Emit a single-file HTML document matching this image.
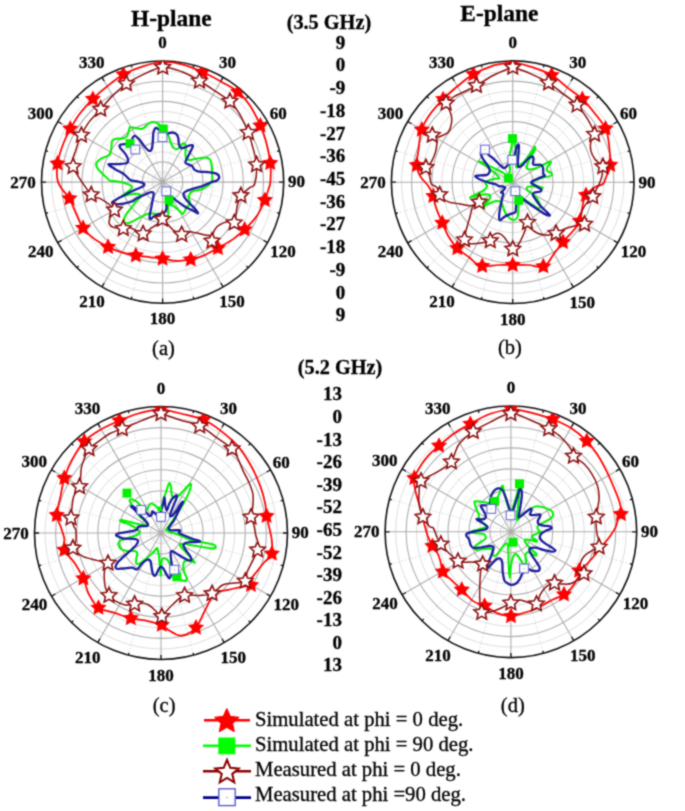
<!DOCTYPE html>
<html><head><meta charset="utf-8"><style>
html,body{margin:0;padding:0;background:#fff;width:685px;height:811px;overflow:hidden}
svg{display:block}
text{font-family:"Liberation Serif", serif;fill:#000;stroke:#000;stroke-width:0.3px}
.dl{font-size:17px;font-weight:bold;text-anchor:middle}
.tt{font-size:23.4px;font-weight:bold;text-anchor:middle}
.ghz{font-size:20.3px;font-weight:bold;text-anchor:middle}
.sc{font-size:19px;font-weight:bold;text-anchor:end}
.sub{font-size:20.5px;text-anchor:middle}
.lg{font-size:20.7px}
.gm{fill:none;stroke:#d4d4d4;stroke-width:0.9;stroke-dasharray:1.5 2}
.gmc{fill:none;stroke:#dedede;stroke-width:1}
.gM{fill:none;stroke:#adadad;stroke-width:1.1}
.ax{fill:none;stroke:#111;stroke-width:1.6}
.tk{fill:none;stroke:#111;stroke-width:1.3}
.cr{fill:none;stroke:#ff0000;stroke-width:1.75}
.cmr{fill:none;stroke:#8b1010;stroke-width:1.5}
.cg{fill:none;stroke:#00f000;stroke-width:2.05}
.cb{fill:none;stroke:#1c1c9c;stroke-width:2.3}
.sr{fill:#ff0000}
.sm{fill:#fff;stroke:#8b1010;stroke-width:1.6;stroke-linejoin:miter}
.qg{fill:#00f000}
.qb{fill:#fff;stroke:#6a6ad6;stroke-width:1.1}
</style></head><body>
<svg width="685" height="811" viewBox="0 0 685 811">
<defs><filter id="bl" filterUnits="userSpaceOnUse" x="0" y="0" width="685" height="811" color-interpolation-filters="sRGB"><feConvolveMatrix order="3" kernelMatrix="1 2 1 2 8 2 1 2 1" divisor="20" edgeMode="duplicate"/></filter><clipPath id="clipa"><circle cx="162.55" cy="182.05" r="121.1"/></clipPath><clipPath id="clipb"><circle cx="512.7" cy="182.2" r="121.3"/></clipPath><clipPath id="clipc"><circle cx="161.0" cy="533.0" r="126.5"/></clipPath><clipPath id="clipd"><circle cx="510.9" cy="531.8" r="125.8"/></clipPath></defs>
<g filter="url(#bl)">
<rect x="0" y="0" width="685" height="811" fill="#fff"/>
<circle cx="162.6" cy="182.1" r="10.1" class="gmc"/>
<circle cx="162.6" cy="182.1" r="30.3" class="gmc"/>
<circle cx="162.6" cy="182.1" r="50.5" class="gmc"/>
<circle cx="162.6" cy="182.1" r="70.6" class="gmc"/>
<circle cx="162.6" cy="182.1" r="90.8" class="gmc"/>
<circle cx="162.6" cy="182.1" r="111" class="gmc"/>
<path d="M162.6 182.1L193.9 65.1M162.6 182.1L248.2 96.4M162.6 182.1L279.5 150.7M162.6 182.1L279.5 213.4M162.6 182.1L248.2 267.7M162.6 182.1L193.9 299M162.6 182.1L131.2 299M162.6 182.1L76.9 267.7M162.6 182.1L45.6 213.4M162.6 182.1L45.6 150.7M162.6 182.1L76.9 96.4M162.6 182.1L131.2 65.1" class="gm"/>
<circle cx="162.6" cy="182.1" r="20.2" class="gM"/>
<circle cx="162.6" cy="182.1" r="40.4" class="gM"/>
<circle cx="162.6" cy="182.1" r="60.5" class="gM"/>
<circle cx="162.6" cy="182.1" r="80.7" class="gM"/>
<circle cx="162.6" cy="182.1" r="100.9" class="gM"/>
<path d="M162.6 182.1L162.6 61M162.6 182.1L223.1 77.2M162.6 182.1L267.4 121.5M162.6 182.1L283.6 182.1M162.6 182.1L267.4 242.6M162.6 182.1L223.1 286.9M162.6 182.1L162.6 303.1M162.6 182.1L102 286.9M162.6 182.1L57.7 242.6M162.6 182.1L41.5 182.1M162.6 182.1L57.7 121.5M162.6 182.1L102 77.2" class="gM"/>
<circle cx="162.6" cy="182.1" r="121.1" class="ax"/>
<path d="M162.6 61L162.6 65.5M193.9 65.1L193.2 67.5M223.1 77.2L220.8 81.1M248.2 96.4L246.4 98.2M267.4 121.5L263.5 123.8M279.5 150.7L277.1 151.4M283.6 182.1L279.1 182.1M279.5 213.4L277.1 212.7M267.4 242.6L263.5 240.3M248.2 267.7L246.4 265.9M223.1 286.9L220.8 283M193.9 299L193.2 296.6M162.6 303.1L162.6 298.6M131.2 299L131.9 296.6M102 286.9L104.2 283M76.9 267.7L78.7 265.9M57.7 242.6L61.6 240.4M45.6 213.4L48 212.7M41.5 182.1L46 182.1M45.6 150.7L48 151.4M57.7 121.5L61.6 123.8M76.9 96.4L78.7 98.2M102 77.2L104.2 81.1M131.2 65.1L131.9 67.5" class="tk"/>
<text x="162.6" y="48.3" class="dl">0</text>
<text x="227.6" y="68" class="dl">30</text>
<text x="278.3" y="119.3" class="dl">60</text>
<text x="296.6" y="187.3" class="dl">90</text>
<text x="283.1" y="256.5" class="dl">120</text>
<text x="232.1" y="307.1" class="dl">150</text>
<text x="162.6" y="324.2" class="dl">180</text>
<text x="92" y="306.9" class="dl">210</text>
<text x="40.7" y="256.8" class="dl">240</text>
<text x="23.1" y="187.6" class="dl">270</text>
<text x="40.5" y="118.8" class="dl">300</text>
<text x="91.8" y="68" class="dl">330</text>
<circle cx="512.7" cy="182.2" r="10.1" class="gmc"/>
<circle cx="512.7" cy="182.2" r="30.3" class="gmc"/>
<circle cx="512.7" cy="182.2" r="50.5" class="gmc"/>
<circle cx="512.7" cy="182.2" r="70.8" class="gmc"/>
<circle cx="512.7" cy="182.2" r="91" class="gmc"/>
<circle cx="512.7" cy="182.2" r="111.2" class="gmc"/>
<path d="M512.7 182.2L544.1 65M512.7 182.2L598.5 96.4M512.7 182.2L629.9 150.8M512.7 182.2L629.9 213.6M512.7 182.2L598.5 268M512.7 182.2L544.1 299.4M512.7 182.2L481.3 299.4M512.7 182.2L426.9 268M512.7 182.2L395.5 213.6M512.7 182.2L395.5 150.8M512.7 182.2L426.9 96.4M512.7 182.2L481.3 65" class="gm"/>
<circle cx="512.7" cy="182.2" r="20.2" class="gM"/>
<circle cx="512.7" cy="182.2" r="40.4" class="gM"/>
<circle cx="512.7" cy="182.2" r="60.6" class="gM"/>
<circle cx="512.7" cy="182.2" r="80.9" class="gM"/>
<circle cx="512.7" cy="182.2" r="101.1" class="gM"/>
<path d="M512.7 182.2L512.7 60.9M512.7 182.2L573.4 77.2M512.7 182.2L617.7 121.5M512.7 182.2L634 182.2M512.7 182.2L617.7 242.8M512.7 182.2L573.4 287.2M512.7 182.2L512.7 303.5M512.7 182.2L452.1 287.2M512.7 182.2L407.7 242.9M512.7 182.2L391.4 182.2M512.7 182.2L407.7 121.5M512.7 182.2L452.1 77.2" class="gM"/>
<circle cx="512.7" cy="182.2" r="121.3" class="ax"/>
<path d="M512.7 60.9L512.7 65.4M544.1 65L543.4 67.4M573.4 77.2L571.1 81M598.5 96.4L596.7 98.2M617.7 121.5L613.9 123.8M629.9 150.8L627.5 151.5M634 182.2L629.5 182.2M629.9 213.6L627.5 212.9M617.7 242.8L613.9 240.6M598.5 268L596.7 266.2M573.4 287.2L571.1 283.4M544.1 299.4L543.4 297M512.7 303.5L512.7 299M481.3 299.4L482 297M452.1 287.2L454.3 283.4M426.9 268L428.7 266.2M407.7 242.9L411.5 240.6M395.5 213.6L397.9 212.9M391.4 182.2L395.9 182.2M395.5 150.8L397.9 151.5M407.7 121.5L411.5 123.8M426.9 96.4L428.7 98.2M452.1 77.2L454.3 81M481.3 65L482 67.4" class="tk"/>
<text x="512.7" y="48.2" class="dl">0</text>
<text x="577.8" y="67.9" class="dl">30</text>
<text x="628.6" y="119.4" class="dl">60</text>
<text x="647" y="187.5" class="dl">90</text>
<text x="633.5" y="256.7" class="dl">120</text>
<text x="582.3" y="307.5" class="dl">150</text>
<text x="512.7" y="324.6" class="dl">180</text>
<text x="442" y="307.3" class="dl">210</text>
<text x="390.6" y="257" class="dl">240</text>
<text x="373" y="187.8" class="dl">270</text>
<text x="390.4" y="118.9" class="dl">300</text>
<text x="441.8" y="67.9" class="dl">330</text>
<circle cx="161" cy="533" r="10.5" class="gmc"/>
<circle cx="161" cy="533" r="31.6" class="gmc"/>
<circle cx="161" cy="533" r="52.7" class="gmc"/>
<circle cx="161" cy="533" r="73.8" class="gmc"/>
<circle cx="161" cy="533" r="94.9" class="gmc"/>
<circle cx="161" cy="533" r="116" class="gmc"/>
<path d="M161 533L193.7 410.8M161 533L250.4 443.6M161 533L283.2 500.3M161 533L283.2 565.7M161 533L250.4 622.4M161 533L193.7 655.2M161 533L128.3 655.2M161 533L71.6 622.4M161 533L38.8 565.7M161 533L38.8 500.3M161 533L71.6 443.6M161 533L128.3 410.8" class="gm"/>
<circle cx="161" cy="533" r="21.1" class="gM"/>
<circle cx="161" cy="533" r="42.2" class="gM"/>
<circle cx="161" cy="533" r="63.2" class="gM"/>
<circle cx="161" cy="533" r="84.3" class="gM"/>
<circle cx="161" cy="533" r="105.4" class="gM"/>
<path d="M161 533L161 406.5M161 533L224.2 423.4M161 533L270.6 469.8M161 533L287.5 533M161 533L270.6 596.2M161 533L224.2 642.6M161 533L161 659.5M161 533L97.7 642.6M161 533L51.4 596.2M161 533L34.5 533M161 533L51.4 469.8M161 533L97.7 423.4" class="gM"/>
<circle cx="161" cy="533" r="126.5" class="ax"/>
<path d="M161 406.5L161 411M193.7 410.8L193.1 413.2M224.2 423.4L222 427.3M250.4 443.6L248.7 445.3M270.6 469.8L266.7 472M283.2 500.3L280.8 500.9M287.5 533L283 533M283.2 565.7L280.8 565.1M270.6 596.2L266.7 594M250.4 622.4L248.7 620.7M224.2 642.6L222 638.7M193.7 655.2L193.1 652.8M161 659.5L161 655M128.3 655.2L128.9 652.8M97.7 642.6L100 638.7M71.6 622.4L73.3 620.7M51.4 596.2L55.3 594M38.8 565.7L41.2 565.1M34.5 533L39 533M38.8 500.3L41.2 500.9M51.4 469.8L55.3 472M71.6 443.6L73.3 445.3M97.7 423.4L100 427.3M128.3 410.8L128.9 413.2" class="tk"/>
<text x="161" y="393.8" class="dl">0</text>
<text x="228.6" y="414.3" class="dl">30</text>
<text x="281.3" y="467.6" class="dl">60</text>
<text x="300.3" y="538.3" class="dl">90</text>
<text x="286.3" y="610.1" class="dl">120</text>
<text x="233.2" y="662.7" class="dl">150</text>
<text x="161" y="680.5" class="dl">180</text>
<text x="87.7" y="662.5" class="dl">210</text>
<text x="34.4" y="610.4" class="dl">240</text>
<text x="16.1" y="538.6" class="dl">270</text>
<text x="34.2" y="467.1" class="dl">300</text>
<text x="87.5" y="414.3" class="dl">330</text>
<circle cx="510.9" cy="531.8" r="10.5" class="gmc"/>
<circle cx="510.9" cy="531.8" r="31.4" class="gmc"/>
<circle cx="510.9" cy="531.8" r="52.4" class="gmc"/>
<circle cx="510.9" cy="531.8" r="73.4" class="gmc"/>
<circle cx="510.9" cy="531.8" r="94.4" class="gmc"/>
<circle cx="510.9" cy="531.8" r="115.3" class="gmc"/>
<path d="M510.9 531.8L543.5 410.3M510.9 531.8L599.9 442.8M510.9 531.8L632.4 499.2M510.9 531.8L632.4 564.4M510.9 531.8L599.9 620.8M510.9 531.8L543.5 653.3M510.9 531.8L478.3 653.3M510.9 531.8L421.9 620.8M510.9 531.8L389.4 564.4M510.9 531.8L389.4 499.2M510.9 531.8L421.9 442.8M510.9 531.8L478.3 410.3" class="gm"/>
<circle cx="510.9" cy="531.8" r="21" class="gM"/>
<circle cx="510.9" cy="531.8" r="41.9" class="gM"/>
<circle cx="510.9" cy="531.8" r="62.9" class="gM"/>
<circle cx="510.9" cy="531.8" r="83.9" class="gM"/>
<circle cx="510.9" cy="531.8" r="104.8" class="gM"/>
<path d="M510.9 531.8L510.9 406M510.9 531.8L573.8 422.9M510.9 531.8L619.8 468.9M510.9 531.8L636.7 531.8M510.9 531.8L619.8 594.7M510.9 531.8L573.8 640.7M510.9 531.8L510.9 657.6M510.9 531.8L448 640.7M510.9 531.8L402 594.7M510.9 531.8L385.1 531.8M510.9 531.8L402 468.9M510.9 531.8L448 422.9" class="gM"/>
<circle cx="510.9" cy="531.8" r="125.8" class="ax"/>
<path d="M510.9 406L510.9 410.5M543.5 410.3L542.8 412.7M573.8 422.9L571.5 426.8M599.9 442.8L598.1 444.6M619.8 468.9L615.9 471.1M632.4 499.2L630 499.9M636.7 531.8L632.2 531.8M632.4 564.4L630 563.7M619.8 594.7L615.9 592.4M599.9 620.8L598.1 619M573.8 640.7L571.5 636.8M543.5 653.3L542.8 650.9M510.9 657.6L510.9 653.1M478.3 653.3L479 650.9M448 640.7L450.2 636.8M421.9 620.8L423.7 619M402 594.7L405.9 592.5M389.4 564.4L391.8 563.7M385.1 531.8L389.6 531.8M389.4 499.2L391.8 499.9M402 468.9L405.9 471.1M421.9 442.8L423.7 444.6M448 422.9L450.2 426.8M478.3 410.3L479 412.7" class="tk"/>
<text x="510.9" y="393.3" class="dl">0</text>
<text x="578.1" y="413.7" class="dl">30</text>
<text x="630.6" y="466.7" class="dl">60</text>
<text x="649.5" y="537.1" class="dl">90</text>
<text x="635.5" y="608.6" class="dl">120</text>
<text x="582.8" y="660.9" class="dl">150</text>
<text x="510.9" y="678.6" class="dl">180</text>
<text x="438" y="660.7" class="dl">210</text>
<text x="384.9" y="608.9" class="dl">240</text>
<text x="366.7" y="537.4" class="dl">270</text>
<text x="384.7" y="466.2" class="dl">300</text>
<text x="437.8" y="413.7" class="dl">330</text>
<g clip-path="url(#clipa)">
<path d="M162.8 62C169.3 61.7 175.3 62.7 182.1 64.4C188.8 66.2 196.6 69.4 203.2 72.3C209.8 75.3 215.8 78.6 221.6 81.9C227.4 85.2 233.4 88 238.2 92C242.9 96 246.5 100.3 250.1 105.8C253.8 111.3 257.6 119.3 260.2 125.1C262.9 131 264.1 134.3 265.8 140.8C267.5 147.2 269.6 156.9 270.4 163.8C271.1 170.6 270.7 177.6 270.4 181.8C270.1 186.1 269.4 186.1 268.5 189.2C267.6 192.3 266.7 195.9 264.8 200.2C263 204.5 260.7 210.2 257.5 214.9C254.3 219.7 249.5 224.8 245.5 228.7C241.5 232.7 238.2 235.6 233.6 238.9C229 242.1 222.8 245.3 217.9 248.1C213 250.8 208.6 253.5 204.1 255.4C199.7 257.3 195.9 258.5 191.3 259.5C186.7 260.4 181.3 261.1 176.6 260.9C171.8 260.8 167.1 259.3 162.7 258.7C158.3 258.1 154.9 257.8 150.4 257.3C145.9 256.7 140.6 256.3 135.6 255.4C130.7 254.6 125.5 253.5 120.9 252.1C116.4 250.7 112.9 249.3 108.4 247.1C104 244.9 98.5 242 94.3 238.9C90.1 235.7 86.3 232.5 83.2 228.2C80.2 223.9 78.2 218.1 75.9 213.1C73.6 208.1 71.7 202.4 69.4 198.4C67.1 194.4 64.1 192.3 62.1 189.2C60.1 186.1 58.2 184.2 57.5 180C56.7 175.8 56.6 169.7 57.5 163.8C58.4 157.8 60.8 150.3 63 144.5C65.1 138.6 67.6 133.9 70.4 128.8C73.1 123.8 75.9 119 79.5 114.1C83.2 109.2 87.7 104.1 92.4 99.4C97.2 94.6 102.8 89.8 108.1 85.6C113.3 81.4 117.9 77.4 123.7 74.2C129.5 71 136.5 68.3 143 66.3C149.5 64.3 156.2 62.4 162.8 62Z" class="cr"/>
<path d="M162.8 67.2C169.3 66.7 175.9 69.5 182.1 71.8C188.2 74.1 194 77.8 199.5 81C205.1 84.2 210.1 87.7 215.2 91.1C220.2 94.5 225.9 97.5 229.9 101.2C233.9 104.9 236 108 239.1 113.2C242.2 118.4 246.1 127.3 248.3 132.5C250.4 137.7 250.6 139.1 252 144.5C253.4 149.8 256.1 158.1 256.6 164.7C257 171.3 255.8 180.2 254.7 184C253.7 187.8 252.4 185.4 250.1 187.4C247.8 189.3 243.1 192.6 240.9 195.6C238.8 198.7 238.4 201.2 237.3 205.8C236.1 210.3 235.9 220.2 234.2 222.8C232.6 225.5 229.8 221.3 227.2 221.7C224.7 222.1 221.1 223.9 219.1 225.2C217 226.4 216 227.8 215 229.3C214 230.7 213.5 232.5 213 233.9C212.5 235.4 212 237.3 211.8 238C211.6 238.7 212.2 238.4 211.8 238C211.5 237.6 210.8 236.2 209.7 235.7C208.6 235.2 207.4 235.5 205 235C202.7 234.5 198.6 233.3 195.7 232.8C192.8 232.2 189.9 231.3 187.5 231.6C185.2 231.9 184 234.7 181.7 234.5C179.3 234.3 176.7 233 173.5 230.4C170.3 227.9 165 220.3 162.4 219.2C159.8 218.1 159.7 222.3 157.7 223.9C155.8 225.4 153.2 226.9 150.7 228.5C148.3 230.2 145.5 233.4 143.1 233.8C140.8 234.2 139 231.9 136.7 230.9C134.5 229.8 131.9 227.8 129.7 227.4C127.5 227 126 228.5 123.3 228.5C120.6 228.5 115.7 228.2 113.4 227.4C111 226.6 109.9 225.4 109.3 223.9C108.7 222.3 109.3 219.8 109.9 218C110.4 216.3 112 214.7 112.8 213.4C113.6 212 115.2 211.4 114.5 209.9C113.8 208.3 111.2 206 108.7 204C106.2 202.1 102.3 199.7 99.3 198.2C96.4 196.6 95.5 199.9 91.2 194.7C86.8 189.4 75.7 174 73.1 166.5C70.6 159.1 74.5 155.2 75.9 150C77.2 144.8 79.2 139.9 81.4 135.3C83.5 130.7 85.5 126.7 88.7 122.4C92 118 96.9 113.4 100.7 109.1C104.5 104.8 107.4 100.9 111.7 96.6C116 92.4 121.2 87.4 126.5 83.8C131.7 80.1 137 77.3 143 74.6C149.1 71.8 156.2 67.7 162.8 67.2Z" class="cmr"/>
<path d="M158.5 125.5C159 126 161.8 127.3 163.2 128.4C164.5 129.6 165.7 131.1 166.7 132.5C167.7 134 168.2 135.2 169 137.2C169.8 139.1 170.4 142.3 171.4 144.2C172.3 146.1 173.7 148.2 174.9 148.9C176 149.5 177.2 149.1 178.4 148.3C179.5 147.5 180.8 145 181.9 144.2C182.9 143.4 184.1 143.2 184.8 143.6C185.5 144 185.9 145.1 185.9 146.5C186 148 185.4 150.4 185.4 152.4C185.4 154.3 185.4 156.9 185.9 158.2C186.5 159.5 187.2 159.9 188.9 160C190.5 160.1 193.2 159.2 195.9 158.8C198.6 158.4 202.9 157.5 205.2 157.6C207.6 157.7 208.8 158.3 209.9 159.4C211 160.5 211.3 162.1 211.6 164.1C212 166 212.1 168.7 212.2 171.1C212.3 173.4 212.2 176.5 212.2 178.1C212.2 179.6 212.8 179.3 212.2 180.5C211.6 181.7 210.5 183.7 208.7 185.2C207 186.6 204.2 188.3 201.7 189.3C199.2 190.2 195.5 190.3 193.5 191C191.6 191.7 190.8 192.2 190 193.4C189.3 194.5 188.9 196.3 188.9 198C188.9 199.8 190.4 202.3 190 203.9C189.6 205.4 187.7 205.7 186.5 207.4C185.4 209 184.2 213.2 183 213.8C181.9 214.4 181.1 212.1 179.5 210.9C178 209.6 175.2 207.2 173.7 206.2C172.1 205.2 171.1 205.3 170.2 205C169.3 204.8 168.5 203.5 168.2 204.6C167.9 205.7 168.3 210 168.2 211.9C168.2 213.8 168.8 215.8 167.8 216.3C166.9 216.8 164.6 215.2 162.7 214.8C160.9 214.5 159 214.4 156.9 214.1C154.8 213.8 152.1 213 150 213.2C147.9 213.4 146.4 214.4 144.2 215.4C142 216.4 139.3 217.9 136.9 219.1C134.5 220.3 131.5 222 129.6 222.7C127.6 223.4 126.2 223.5 125.2 223.1C124.2 222.7 123.7 221.9 123.8 220.5C123.9 219.1 124.8 216.8 126 214.7C127.2 212.6 129.3 210.4 131.1 208.1C132.9 205.8 135.3 202.8 136.9 200.8C138.5 198.8 140.7 197.5 140.9 196.4C141.2 195.2 139.9 194.4 138.6 194C137.3 193.6 135.2 193.8 133.4 193.9C131.5 194 129.5 194.4 127.5 194.9C125.6 195.3 122.1 196.8 121.7 196.6C121.3 196.4 123.9 194.7 125.2 193.7C126.4 192.7 128.2 191.5 129.3 190.5C130.4 189.5 131.7 188.5 131.9 187.6C132.1 186.7 131.5 185.9 130.4 185.3C129.4 184.6 127.2 184 125.8 183.5C124.3 183 123.3 182.7 121.7 182.3C120 181.9 117.8 181.5 115.8 181.2C113.9 180.9 111.9 181.5 110 180.6C108.1 179.6 106.3 177.3 104.3 175.5C102.4 173.7 99.9 171.4 98.5 169.7C97.1 167.9 96.4 166.3 96.2 165C96 163.7 96.4 162.8 97.3 161.7C98.3 160.6 100 159.4 102 158.2C104.1 157 108 156.5 109.6 154.7C111.2 153 111 149.9 111.4 147.7C111.7 145.5 111.4 142.7 111.9 141.3C112.5 139.8 113 139.4 114.9 138.9C116.7 138.5 121 138.8 123 138.4C125.1 137.9 126.1 137.4 127.1 136C128.1 134.7 128.4 131.6 128.9 130.2C129.4 128.7 129.1 127.7 130 127.3C131 126.9 133 127.6 134.7 127.8C136.5 128.1 139 129 140.5 129C142.1 129 142.9 128.6 144.1 127.8C145.2 127.1 146.4 125.3 147.6 124.3C148.7 123.4 149.7 122.5 151.1 122.2C152.4 121.9 154.2 122 155.7 122.6C157.3 123.1 159.9 125 160.4 125.5C160.9 126 158 125 158.5 125.5Z" class="cg"/>
<path d="M162.9 135.4C164.2 135.8 166.3 133.9 167.8 133.5C169.4 133 171.1 132.4 172.5 132.5C174 132.7 175.6 133.3 176.6 134.3C177.6 135.2 178 136.7 178.4 138.4C178.7 140 178.5 142.5 178.9 144.2C179.4 145.9 180.2 147.8 181.3 148.3C182.3 148.8 183.9 147.6 185.4 147.1C186.8 146.6 188.8 145.6 190 145.4C191.3 145.2 193 144.8 193 145.9C193 147.1 191.1 150.1 190 152.4C189 154.6 187.3 157.6 186.5 159.4C185.8 161.1 185 162 185.4 162.9C185.8 163.8 187.7 164.1 188.9 164.6C190 165.2 191.4 165.5 192.4 166.4C193.3 167.3 193.5 169 194.7 169.9C195.9 170.8 197.2 171.3 199.4 171.6C201.5 172 204.8 171.9 207.6 172.2C210.3 172.5 213.8 172.6 215.7 173.4C217.7 174.2 219 175.7 219.2 176.9C219.4 178.1 218.5 179.4 216.9 180.4C215.3 181.4 212.4 181.7 209.9 182.7C207.4 183.7 204.4 185.4 201.7 186.4C199 187.3 196.1 187.9 193.5 188.7C191 189.5 188.2 190.2 186.5 191C184.9 191.8 184 192.4 183.6 193.4C183.2 194.3 183.3 195.3 184.2 196.9C185.1 198.4 187.1 200.8 188.9 202.7C190.6 204.6 193.2 206.8 194.7 208.5C196.3 210.3 198.4 212.8 198.2 213.2C198 213.6 195.9 212 193.5 210.9C191.2 209.7 187.1 208 184.2 206.2C181.3 204.5 178.4 202.1 176 200.4C173.7 198.6 171.5 196.3 170.2 195.7C168.8 195.1 168.5 196.2 167.8 196.9C167.2 197.5 166.6 197.5 166.4 199.5C166.1 201.5 166.8 206.8 166.4 209C166 211.2 165.4 211.8 164.2 212.6C163 213.5 160.8 213.5 159.1 214.1C157.4 214.7 155.4 215.4 154 216.3C152.5 217.1 151.1 219.2 150.3 219.2C149.6 219.2 149.5 218.1 149.6 216.3C149.7 214.5 150.5 211.4 151.1 208.2C151.7 205.1 152.8 199.9 153.2 197.3C153.7 194.7 154 193.8 153.6 192.9C153.2 192.1 152.9 191.7 151.1 192.2C149.2 192.7 145 194.6 142.3 195.8C139.6 197.1 136.5 198.6 135 199.5C133.5 200.4 135.1 200.4 133.4 201C131.6 201.7 127.5 202.8 124.6 203.4C121.7 203.9 117.9 204.5 115.8 204.5C113.8 204.5 112.8 203.8 112.3 203.4C111.8 202.9 111.8 202.5 112.9 201.6C114 200.7 116.3 199.5 118.8 198.1C121.2 196.7 124.6 194.9 127.5 193.4C130.4 192 133.7 190.5 136.3 189.3C138.8 188.2 141.3 187.2 142.7 186.4C144.1 185.6 144.5 185.3 144.5 184.7C144.5 184.1 144.1 183.5 142.7 182.9C141.3 182.3 138.3 181.7 136.3 181.2C134.2 180.7 132.5 181.1 130.4 180C128.4 178.9 126.6 176.1 124.2 174.3C121.8 172.6 118.6 171.2 116 169.7C113.5 168.1 110.1 165.9 109 165C107.9 164.1 108 164.2 109.6 164.1C111.2 163.9 115.4 164.2 118.4 164.1C121.3 163.9 125.6 163.9 127.1 162.9C128.7 161.9 128.2 160 127.7 158.2C127.2 156.5 125.5 154.1 124.2 152.4C122.9 150.6 120.8 149 120.1 147.7C119.4 146.4 119.4 145.4 120.1 144.8C120.8 144.2 122.5 144.4 124.2 144.2C125.9 144 128.6 144.8 130 143.6C131.5 142.4 132.1 138.5 133 137.2C133.8 135.9 134.2 135.6 135.3 136C136.4 136.4 137.9 137.9 139.4 139.5C140.8 141.2 142.5 144.1 144.1 145.9C145.6 147.8 147.5 150 148.7 150.6C150 151.2 151 150.9 151.6 149.5C152.3 148 152.5 144.7 152.8 141.9C153.1 139 153 134.8 153.4 132.5C153.8 130.3 154.5 129.1 155.1 128.4C155.8 127.7 156.6 127.9 157.5 128.4C158.4 128.9 159.5 130.2 160.4 131.4C161.3 132.5 161.7 135.1 162.9 135.4Z" class="cb"/>
<path d="M162.6 53.5L165.1 58.6L170.7 59.4L166.6 63.4L167.6 69L162.6 66.4L157.5 69L158.5 63.4L154.4 59.4L160 58.6ZM202.6 63.5L205.1 68.6L210.7 69.4L206.7 73.4L207.6 79.1L202.6 76.4L197.5 79.1L198.5 73.4L194.4 69.4L200 68.6ZM238.1 83.4L240.6 88.5L246.3 89.3L242.2 93.3L243.2 99L238.1 96.3L233.1 99L234 93.3L229.9 89.3L235.6 88.5ZM260.4 117L262.9 122.1L268.6 122.9L264.5 126.9L265.5 132.5L260.4 129.9L255.3 132.5L256.3 126.9L252.2 122.9L257.9 122.1ZM270.2 154.5L272.8 159.6L278.4 160.4L274.3 164.4L275.3 170L270.2 167.4L265.2 170L266.1 164.4L262 160.4L267.7 159.6ZM264.9 191.5L267.4 196.6L273.1 197.4L269 201.4L269.9 207.1L264.9 204.4L259.8 207.1L260.8 201.4L256.7 197.4L262.4 196.6ZM244.7 220.9L247.2 226L252.9 226.8L248.8 230.8L249.7 236.4L244.7 233.8L239.6 236.4L240.6 230.8L236.5 226.8L242.2 226ZM217.9 239.5L220.5 244.6L226.1 245.4L222 249.4L223 255L217.9 252.4L212.9 255L213.8 249.4L209.8 245.4L215.4 244.6ZM190.7 250.9L193.3 256L198.9 256.9L194.8 260.8L195.8 266.5L190.7 263.8L185.7 266.5L186.7 260.8L182.6 256.9L188.2 256ZM162.6 250.1L165.1 255.2L170.7 256.1L166.6 260L167.6 265.7L162.6 263L157.5 265.7L158.5 260L154.4 256.1L160 255.2ZM135.8 246.8L138.4 252L144 252.8L139.9 256.8L140.9 262.4L135.8 259.7L130.8 262.4L131.7 256.8L127.7 252.8L133.3 252ZM108.1 238.3L110.6 243.5L116.3 244.3L112.2 248.3L113.2 253.9L108.1 251.2L103 253.9L104 248.3L99.9 244.3L105.6 243.5ZM83.1 219.3L85.6 224.4L91.3 225.3L87.2 229.3L88.1 234.9L83.1 232.2L78 234.9L79 229.3L74.9 225.3L80.6 224.4ZM69.5 189.9L72 195L77.6 195.8L73.6 199.8L74.5 205.4L69.5 202.8L64.4 205.4L65.4 199.8L61.3 195.8L66.9 195ZM57.5 154.9L60.1 160.1L65.7 160.9L61.6 164.9L62.6 170.5L57.5 167.8L52.5 170.5L53.5 164.9L49.4 160.9L55 160.1ZM70.3 120.2L72.9 125.3L78.5 126.2L74.4 130.1L75.4 135.8L70.3 133.1L65.3 135.8L66.3 130.1L62.2 126.2L67.8 125.3ZM92.9 90.4L95.4 95.5L101 96.3L97 100.3L97.9 106L92.9 103.3L87.8 106L88.8 100.3L84.7 96.3L90.3 95.5ZM123.4 65.8L125.9 70.9L131.6 71.8L127.5 75.7L128.4 81.4L123.4 78.7L118.3 81.4L119.3 75.7L115.2 71.8L120.8 70.9Z" class="sr"/>
<path d="M162.7 59.1L165 64L170.4 64.7L166.4 68.4L167.5 73.8L162.7 71.1L157.9 73.8L159 68.4L155 64.7L160.4 64ZM199.5 72.9L201.8 77.8L207.2 78.5L203.2 82.2L204.3 87.6L199.5 84.9L194.7 87.6L195.8 82.2L191.8 78.5L197.2 77.8ZM229.9 93.1L232.2 98L237.6 98.7L233.6 102.4L234.7 107.8L229.9 105.1L225.1 107.8L226.2 102.4L222.2 98.7L227.6 98ZM248.3 124.4L250.6 129.3L256 130L252 133.7L253.1 139.1L248.3 136.4L243.5 139.1L244.6 133.7L240.6 130L246 129.3ZM256.6 156.6L258.9 161.5L264.3 162.2L260.3 165.9L261.4 171.3L256.6 168.6L251.8 171.3L252.9 165.9L248.9 162.2L254.3 161.5ZM240.9 187.5L243.2 192.4L248.6 193.1L244.6 196.8L245.7 202.2L240.9 199.5L236.1 202.2L237.2 196.8L233.2 193.1L238.6 192.4ZM234.2 214.7L236.5 219.6L241.9 220.3L237.9 224L239 229.4L234.2 226.7L229.4 229.4L230.5 224L226.5 220.3L231.9 219.6ZM212 232.9L214.3 237.8L219.7 238.5L215.7 242.2L216.8 247.6L212 244.9L207.2 247.6L208.3 242.2L204.3 238.5L209.7 237.8ZM181.7 226.4L184 231.3L189.4 232L185.4 235.7L186.5 241.1L181.7 238.4L176.9 241.1L178 235.7L174 232L179.4 231.3ZM162.4 211.1L164.7 216L170.1 216.7L166.1 220.4L167.2 225.8L162.4 223.1L157.6 225.8L158.7 220.4L154.7 216.7L160.1 216ZM143.1 225.7L145.4 230.6L150.8 231.3L146.8 235L147.9 240.4L143.1 237.7L138.3 240.4L139.4 235L135.4 231.3L140.8 230.6ZM123.3 220.4L125.6 225.3L131 226L127 229.7L128.1 235.1L123.3 232.4L118.5 235.1L119.6 229.7L115.6 226L121 225.3ZM114.5 201.8L116.8 206.7L122.2 207.4L118.2 211.1L119.3 216.5L114.5 213.8L109.7 216.5L110.8 211.1L106.8 207.4L112.2 206.7ZM91.2 186.6L93.5 191.5L98.9 192.2L94.9 195.9L96 201.3L91.2 198.6L86.4 201.3L87.5 195.9L83.5 192.2L88.9 191.5ZM73.1 158.4L75.4 163.3L80.8 164L76.8 167.7L77.9 173.1L73.1 170.4L68.3 173.1L69.4 167.7L65.4 164L70.8 163.3ZM81.4 127.1L83.7 132L89.1 132.7L85.1 136.4L86.2 141.8L81.4 139.1L76.6 141.8L77.7 136.4L73.7 132.7L79.1 132ZM100.7 101L103 105.9L108.4 106.6L104.4 110.3L105.5 115.7L100.7 113L95.9 115.7L97 110.3L93 106.6L98.4 105.9ZM126.4 75.6L128.7 80.5L134.1 81.2L130.1 84.9L131.2 90.3L126.4 87.6L121.6 90.3L122.7 84.9L118.7 81.2L124.1 80.5Z" class="sm"/>
<rect x="158.8" y="124.5" width="9" height="9" class="qg"/>
<rect x="125.5" y="139.1" width="9" height="9" class="qg"/>
<rect x="164.5" y="195.5" width="9" height="9" class="qg"/>
<rect x="158.1" y="132.8" width="8.8" height="8.8" class="qb"/><circle cx="162.5" cy="137.2" r="0.5" fill="#8080d8"/>
<rect x="130.9" y="145.1" width="8.8" height="8.8" class="qb"/><circle cx="135.3" cy="149.5" r="0.5" fill="#8080d8"/>
<rect x="161.9" y="186.9" width="8.8" height="8.8" class="qb"/><circle cx="166.3" cy="191.3" r="0.5" fill="#8080d8"/>
</g>
<g clip-path="url(#clipb)">
<path d="M512.8 62C516.5 62.8 525.5 65 532.1 67.2C538.7 69.4 546.5 72.1 552.3 75.5C558.1 78.8 562 83.4 567 87.4C572.1 91.4 578.1 95.1 582.7 99.4C587.3 103.7 590.8 108.3 594.6 113.2C598.4 118.1 603.3 123.6 605.6 128.8C608 134 608.2 138.3 609 144.5C609.7 150.6 610.6 160.4 610.2 165.6C609.8 170.8 607.8 172.7 606.6 175.7C605.3 178.8 604.9 182.1 602.9 184C600.9 185.9 597.5 185.4 594.6 187.4C591.7 189.3 587.5 192.3 585.4 195.6C583.4 199 583.2 203.3 582.3 207.6C581.4 211.9 581.5 217.4 579.9 221.4C578.3 225.4 575.3 228.1 572.5 231.5C569.8 234.9 566.4 237.9 563.3 241.6C560.3 245.3 557.4 249.4 554.1 253.6C550.9 257.7 548.3 264.6 544 266.5C539.7 268.4 533.6 265.2 528.4 265C523.2 264.7 517.7 265 512.7 265C507.7 265 503.8 264.8 498.5 265C493.3 265.2 486 267.4 481.1 266.1C476.1 264.8 473.1 260.3 469.1 257.3C465.1 254.3 460.5 251.4 457.1 248.1C453.8 244.7 451.3 241.2 448.9 237C446.4 232.9 444.6 228.1 442.4 223.2C440.3 218.3 437.5 212.2 436 207.6C434.5 203 434.5 199.2 433.2 195.6C432 192.1 430.9 189.8 428.6 186.4C426.4 183.1 421.8 179.3 419.8 175.7C417.8 172.1 416.9 169 416.7 164.7C416.5 160.4 417.7 155.6 418.5 150C419.3 144.3 419.4 136.5 421.3 130.7C423.1 124.8 426 120.1 429.5 115C433.1 109.9 438 104.5 442.4 99.9C446.9 95.3 451.2 91.7 456.2 87.4C461.3 83.2 466.9 78.1 472.8 74.6C478.6 71 485 68.3 491.2 66.3C497.3 64.3 506 63.3 509.6 62.6C513.2 61.9 509 61.3 512.8 62Z" class="cr"/>
<path d="M512.8 67.2C515.7 68.3 524.3 71 530.2 73.6C536.2 76.2 543.1 79.5 548.6 82.8C554.1 86.2 558.6 90.2 563.3 93.9C568.1 97.5 573.2 100.8 577.1 104.9C581.1 109 584.3 113.8 587.3 118.7C590.2 123.6 594 130.5 594.6 134.3C595.2 138.2 591.5 138.9 590.9 141.7C590.3 144.5 590.3 148 590.9 150.9C591.6 153.8 593.1 156.6 595 159.2C596.8 161.8 600.8 163.8 602 166.5C603.1 169.3 602.4 172.8 602 175.7C601.5 178.6 600.1 181.8 599.2 184C598.3 186.2 597.5 187.1 596.5 189.2C595.4 191.3 594.3 194.4 592.8 196.6C591.2 198.7 588.9 199.9 587.3 202.1C585.6 204.2 583.9 207 582.7 209.4C581.4 211.9 579.6 214.3 579.9 216.8C580.2 219.2 585.4 222.6 584.5 224.1C583.6 225.7 577.6 225.2 574.4 226C571.2 226.8 568.2 227.5 565.2 228.7C562.1 230 559.1 232.3 556 233.3C552.9 234.4 549.9 235.2 546.8 235.2C543.7 235.2 540.4 234.6 537.6 233.3C534.8 232.1 531.9 229.7 530.2 227.8C528.5 226 528.4 221.7 527.5 222.3C526.6 222.9 525.9 228.3 524.7 231.5C523.5 234.7 521.5 239 520.1 241.6C518.7 244.2 517.7 245.9 516.4 247.1C515.2 248.4 514.8 250.7 512.7 249C510.6 247.3 506.4 239.6 504 237C501.7 234.4 500.4 233.6 498.5 233.3C496.7 233 494.4 234 493 235.2C491.6 236.4 491.8 239.5 490.2 240.7C488.7 241.9 486.1 242.1 483.8 242.5C481.5 243 478.9 243.3 476.5 243.5C474 243.6 471.1 244.1 469.1 243.5C467.1 242.8 465.1 241.5 464.5 239.8C463.9 238.1 465 235.6 465.4 233.3C465.9 231 466.5 228.7 467.3 226C468 223.2 469.1 220 470 216.8C470.9 213.6 471.2 209.1 472.8 206.7C474.3 204.2 479.5 202.2 479.2 202.1C478.9 201.9 474.2 205.4 470.9 205.8C467.7 206.1 463.6 204.5 459.9 203.9C456.2 203.3 451.8 203 448.9 202.1C445.9 201.2 444 199.6 442.4 198.4C440.9 197.2 440.6 196.6 439.7 194.7C438.7 192.9 438.3 189.1 436.9 187.4C435.5 185.6 432.6 185.9 431.4 184C430.2 182.1 430.3 178.3 429.5 175.7C428.8 173.1 426.5 170.7 426.8 168.4C427.1 166.1 429.9 164.7 431.4 161.9C432.9 159.2 434.7 155 435.6 151.8C436.5 148.6 436.8 144.9 436.9 142.6C437 140.3 435.4 139.1 436 138C436.6 136.9 438.6 137.1 440.6 136.2C442.6 135.3 446.2 134.3 447.9 132.5C449.7 130.7 450.5 127.7 451.1 125.1C451.7 122.5 451.9 119.5 451.6 116.9C451.3 114.3 450 111.5 449.2 109.5C448.5 107.5 446.5 106.9 447 104.9C447.6 102.9 449.8 99.7 452.5 97.5C455.3 95.4 459.6 94 463.6 92C467.6 90 471.5 88.4 476.5 85.6C481.4 82.8 487 78.5 493 75.5C499 72.4 509.4 68.6 512.7 67.2C516 65.8 509.8 66.1 512.8 67.2Z" class="cmr"/>
<path d="M512.5 139C512.9 138.8 513.9 140.6 514.5 143C515.1 145.4 516 150.4 516.4 153.2C516.8 156 516.7 157.7 516.7 160C516.7 162.3 515.8 166.2 516.3 167.1C516.8 168 517.8 167.1 519.6 165.7C521.4 164.2 524.7 161 526.9 158.4C529.1 155.8 531.4 152.2 532.7 150.3C534 148.4 534.5 146.8 534.9 146.7C535.3 146.6 535.3 148.4 534.9 149.6C534.5 150.8 533.7 152.3 532.7 154C531.7 155.7 530.1 157.8 529.1 159.8C528.1 161.8 527.4 164.3 527 165.8C526.6 167.3 526.2 168.2 527 168.8C527.8 169.4 530 169.5 531.7 169.3C533.5 169.1 535.5 168.4 537.5 167.6C539.5 166.8 541.2 165.7 543.4 164.7C545.5 163.7 549.2 162 550.4 161.8C551.6 161.6 550.9 162.6 550.4 163.5C549.9 164.4 548 165.8 547.4 167C546.8 168.2 546.3 169.5 546.9 170.5C547.5 171.5 550 172.1 550.9 172.8C551.8 173.5 552.4 174 552.1 174.6C551.8 175.2 550.4 176 549.2 176.4C548 176.8 546.8 176.5 545.1 176.9C543.5 177.3 541.3 177.9 539.3 178.7C537.2 179.5 534 180.8 532.8 181.6C531.6 182.4 531.7 182.7 532.3 183.4C532.9 184.1 534.6 184.9 536.4 185.7C538.1 186.5 542.6 187.8 542.8 188C543 188.2 539.4 187.2 537.5 186.9C535.6 186.6 533.5 186.2 531.7 186.3C530 186.4 527.7 186.7 527 187.4C526.3 188.1 526.8 189.4 527.6 190.4C528.4 191.4 530.6 192.5 531.7 193.3C532.8 194.1 533.1 194.1 534 195C534.9 195.9 536 197.2 536.9 198.5C537.8 199.8 538.8 201.7 539.4 203C540 204.3 540.6 205.6 540.3 206.5C540 207.4 539.4 208.9 537.7 208.3C536 207.7 532.5 204.6 530 203C527.5 201.4 524.3 198.8 522.5 198.5C520.7 198.2 519.7 199.1 519 201C518.3 202.9 518.6 207.3 518.4 210C518.1 212.7 518.1 215.4 517.5 217C516.9 218.6 516.1 219.4 514.9 219.7C513.7 220 512.1 219.9 510.5 218.8C508.9 217.7 506.8 215.2 505.5 213.1C504.2 211 503.7 208.3 502.9 206.5C502.1 204.7 502 202.9 500.9 202C499.8 201.1 498.2 200.8 496.3 201C494.4 201.2 491.6 202.5 489.7 203.3C487.8 204.1 486.2 205.1 485.1 205.9C484 206.7 483.3 208.1 483.1 207.9C482.9 207.7 483 205.7 483.8 204.6C484.6 203.5 486.6 202.5 487.7 201.3C488.8 200.1 490.2 198.4 490.4 197.3C490.6 196.2 490.3 195.2 489.1 194.7C487.9 194.2 485.2 194.2 483.1 194.4C481 194.6 478.5 195.6 476.6 196C474.8 196.4 473.1 196.4 472 196.7C470.9 197 469.7 197.9 470 197.7C470.3 197.4 471.8 196.3 474 195.2C476.2 194 480.9 192.3 483.1 190.8C485.3 189.3 486.8 187.5 487.1 186.2C487.4 184.9 484.7 183.9 485.1 182.9C485.5 181.9 488 180.6 489.7 179.9C491.4 179.2 493.9 179.1 495.5 178.8C497.1 178.6 498.8 178.9 499.2 178.4C499.6 177.9 498.9 177.2 497.7 175.9C496.5 174.6 493.8 172.5 491.9 170.8C490 169.1 487.9 167 486.1 165.7C484.3 164.3 482.2 163.4 481 162.7C479.8 162 478.2 161.2 478.8 161.3C479.4 161.4 482.7 162.7 484.6 163.5C486.5 164.3 488.2 165.3 490.4 166.4C492.6 167.5 495.5 168.9 497.7 170C499.9 171.1 502 172 503.6 173C505.2 174 506.2 176.2 507.2 175.9C508.2 175.7 509.4 173.4 509.8 171.5C510.2 169.6 509.8 167 509.8 164.2C509.8 161.4 509.6 157.1 509.8 154.7C510 152.3 510.5 151.4 510.9 149.6C511.3 147.8 511.7 145.8 512 144C512.3 142.2 512.1 139.2 512.5 139Z" class="cg"/>
<path d="M512.3 159.8C512.9 158.7 513.9 157.1 514.5 155.4C515.1 153.7 515.4 151.4 515.9 149.6C516.4 147.8 517.3 145.1 517.8 144.5C518.3 143.9 518.8 144.6 518.9 146C519 147.4 518.7 150.2 518.5 153.2C518.3 156.2 517.7 161.9 517.8 164.2C517.9 166.5 518.3 167.1 519.2 167.1C520.1 167.1 521.7 165.6 523.2 164.2C524.7 162.8 526.9 159.7 528.4 158.4C529.9 157.1 531.1 156.5 532 156.5C532.9 156.5 533.3 157.1 533.5 158.4C533.7 159.7 532.7 163.1 533.1 164.2C533.5 165.3 534.4 164.8 535.7 164.9C537 165 539.6 164.4 540.8 164.9C542 165.4 542.6 166.3 543 167.8C543.4 169.3 543.1 172.7 543.4 174C543.6 175.3 545.5 175 544.5 175.8C543.5 176.6 539.6 177.7 537.5 178.7C535.4 179.7 532.7 180.8 531.7 181.6C530.7 182.4 530.9 182.6 531.7 183.4C532.5 184.2 534.9 185.3 536.4 186.3C537.9 187.3 540.3 188.3 541 189.2C541.7 190.1 541.6 190.9 540.4 191.5C539.2 192.1 535.3 192.1 534 192.7C532.7 193.3 532.6 194 532.8 195C533 196 533.9 197 535 198.6C536.1 200.2 537.8 202.9 539.4 204.8C541 206.7 543 208.2 544.7 210C546.5 211.8 549.8 214.6 549.9 215.3C550 216 547.4 215.3 545.5 214.4C543.6 213.5 541 211.6 538.5 210C536 208.4 533.2 206.6 530.7 204.8C528.2 203.1 525.6 201 523.6 199.5C521.6 198 520 195.9 518.8 195.6C517.6 195.3 516.6 196.4 516.2 197.8C515.8 199.2 516.3 201.9 516.2 203.9C516.1 205.9 516 208.6 515.8 210C515.6 211.4 516.1 211.8 515 212.5C513.9 213.2 511.2 213.7 509.4 214.4C507.6 215.2 505.7 216 504.2 217C502.7 218 501 220.2 500.2 220.3C499.4 220.4 499.3 219.2 499.2 217.7C499.1 216.2 499.3 213.3 499.6 211.1C499.9 208.9 500.5 206.8 500.9 204.6C501.3 202.4 501.8 199.9 502.2 198C502.6 196.1 503.4 194.3 503.2 193.4C503 192.5 500.9 192.8 500.9 192.4C500.8 192 502.2 191.6 502.9 190.8C503.6 190 505.2 188.2 505.2 187.5C505.2 186.8 503.9 186.7 502.9 186.5C501.8 186.3 500 186.5 498.9 186.2C497.8 185.9 497.8 185.1 496.3 184.5C494.8 183.9 492.1 183.6 489.7 182.9C487.3 182.2 484.1 181.3 481.8 180.3C479.5 179.3 476.8 177.8 475.9 177C475 176.2 474.9 176 476.6 175.7C478.4 175.4 484.3 175.4 486.4 175C488.5 174.6 488.4 173.8 489 173C489.6 172.2 490.1 171.5 489.7 170C489.3 168.5 487.9 166 486.8 164.2C485.7 162.4 484.1 160.7 483.1 159.1C482.1 157.5 481.3 156.1 481 154.7C480.7 153.3 480.9 151.3 481.5 150.5C482.1 149.7 483.2 149.2 484.5 150C485.8 150.8 487.3 153.5 489 155.1C490.7 156.7 492.9 158 494.8 159.8C496.8 161.6 499.1 164.3 500.7 165.7C502.3 167.1 503.2 168.2 504.3 168.2C505.4 168.2 506.1 166.7 507.2 165.7C508.3 164.7 510 163 510.9 162C511.8 161 511.7 160.9 512.3 159.8Z" class="cb"/>
<path d="M512.7 53.5L515.2 58.6L520.9 59.4L516.8 63.4L517.8 69L512.7 66.4L507.6 69L508.6 63.4L504.5 59.4L510.2 58.6ZM551.6 66.6L554.2 71.7L559.8 72.5L555.7 76.5L556.7 82.2L551.6 79.5L546.6 82.2L547.6 76.5L543.5 72.5L549.1 71.7ZM582.4 90.6L584.9 95.7L590.6 96.5L586.5 100.5L587.4 106.1L582.4 103.5L577.3 106.1L578.3 100.5L574.2 96.5L579.8 95.7ZM605.5 120L608 125.1L613.7 126L609.6 129.9L610.6 135.6L605.5 132.9L600.5 135.6L601.4 129.9L597.3 126L603 125.1ZM610.2 156.4L612.7 161.5L618.4 162.3L614.3 166.3L615.3 172L610.2 169.3L605.2 172L606.1 166.3L602 162.3L607.7 161.5ZM586 186.5L588.5 191.6L594.2 192.5L590.1 196.5L591 202.1L586 199.4L580.9 202.1L581.9 196.5L577.8 192.5L583.5 191.6ZM580 212.4L582.5 217.6L588.1 218.4L584 222.4L585 228L580 225.3L574.9 228L575.9 222.4L571.8 218.4L577.4 217.6ZM563 233.5L565.5 238.6L571.1 239.4L567.1 243.4L568 249.1L563 246.4L557.9 249.1L558.9 243.4L554.8 239.4L560.4 238.6ZM543.3 257.8L545.9 262.9L551.5 263.7L547.4 267.7L548.4 273.3L543.3 270.7L538.3 273.3L539.3 267.7L535.2 263.7L540.8 262.9ZM512.7 256.4L515.2 261.5L520.9 262.3L516.8 266.3L517.8 271.9L512.7 269.3L507.6 271.9L508.6 266.3L504.5 262.3L510.2 261.5ZM482.2 257.4L484.7 262.5L490.4 263.4L486.3 267.3L487.2 273L482.2 270.3L477.1 273L478.1 267.3L474 263.4L479.7 262.5ZM457.3 239.6L459.8 244.7L465.5 245.5L461.4 249.5L462.4 255.2L457.3 252.5L452.3 255.2L453.2 249.5L449.1 245.5L454.8 244.7ZM442.3 214.3L444.8 219.4L450.5 220.2L446.4 224.2L447.3 229.8L442.3 227.2L437.2 229.8L438.2 224.2L434.1 220.2L439.7 219.4ZM433.4 187.6L435.9 192.7L441.5 193.5L437.4 197.5L438.4 203.1L433.4 200.5L428.3 203.1L429.3 197.5L425.2 193.5L430.8 192.7ZM416.8 156.7L419.4 161.8L425 162.6L420.9 166.6L421.9 172.3L416.8 169.6L411.8 172.3L412.8 166.6L408.7 162.6L414.3 161.8ZM421.8 121.1L424.3 126.2L430 127L425.9 131L426.8 136.7L421.8 134L416.7 136.7L417.7 131L413.6 127L419.2 126.2ZM443.1 90.7L445.7 95.8L451.3 96.6L447.2 100.6L448.2 106.3L443.1 103.6L438.1 106.3L439 100.6L435 96.6L440.6 95.8ZM473.4 65.7L475.9 70.8L481.6 71.6L477.5 75.6L478.5 81.2L473.4 78.6L468.4 81.2L469.3 75.6L465.2 71.6L470.9 70.8Z" class="sr"/>
<path d="M512.8 59.1L515.1 64L520.5 64.7L516.5 68.4L517.5 73.8L512.8 71.1L508 73.8L509.1 68.4L505.1 64.7L510.5 64ZM548.6 74.7L550.9 79.7L556.3 80.3L552.3 84L553.4 89.4L548.6 86.7L543.9 89.4L544.9 84L540.9 80.3L546.3 79.7ZM577.1 96.8L579.4 101.7L584.8 102.4L580.8 106.1L581.9 111.5L577.1 108.8L572.4 111.5L573.4 106.1L569.4 102.4L574.8 101.7ZM594.6 126.2L596.9 131.2L602.3 131.8L598.3 135.5L599.4 140.9L594.6 138.2L589.9 140.9L590.9 135.5L586.9 131.8L592.3 131.2ZM602.9 158.4L605.2 163.4L610.6 164L606.6 167.7L607.7 173.1L602.9 170.4L598.1 173.1L599.2 167.7L595.2 164L600.6 163.4ZM592.8 188.5L595.1 193.4L600.5 194.1L596.5 197.8L597.5 203.1L592.8 200.5L588 203.1L589.1 197.8L585.1 194.1L590.5 193.4ZM584.5 216L586.8 221L592.2 221.6L588.2 225.4L589.3 230.7L584.5 228L579.7 230.7L580.8 225.4L576.8 221.6L582.2 221ZM556 225.2L558.3 230.2L563.7 230.8L559.7 234.5L560.7 239.9L556 237.2L551.2 239.9L552.3 234.5L548.3 230.8L553.7 230.2ZM527.5 214.2L529.8 219.2L535.2 219.8L531.2 223.5L532.2 228.9L527.5 226.2L522.7 228.9L523.8 223.5L519.8 219.8L525.2 219.2ZM512.8 240.9L515.1 245.8L520.5 246.5L516.5 250.2L517.5 255.5L512.8 252.9L508 255.5L509.1 250.2L505.1 246.5L510.5 245.8ZM490.2 232.6L492.5 237.5L498 238.2L494 241.9L495 247.3L490.2 244.6L485.5 247.3L486.5 241.9L482.5 238.2L488 237.5ZM464.5 231.7L466.8 236.6L472.2 237.3L468.2 241L469.3 246.3L464.5 243.7L459.7 246.3L460.8 241L456.8 237.3L462.2 236.6ZM479.2 194L481.5 198.9L486.9 199.6L482.9 203.3L484 208.6L479.2 206L474.5 208.6L475.5 203.3L471.5 199.6L476.9 198.9ZM439.7 186.6L442 191.6L447.4 192.2L443.4 195.9L444.4 201.3L439.7 198.6L434.9 201.3L436 195.9L432 192.2L437.4 191.6ZM425.9 159.3L428.2 164.3L433.6 164.9L429.6 168.7L430.6 174L425.9 171.3L421.1 174L422.2 168.7L418.2 164.9L423.6 164.3ZM432.3 127.2L434.6 132.1L440 132.8L436 136.5L437.1 141.8L432.3 139.2L427.5 141.8L428.6 136.5L424.6 132.8L430 132.1ZM446.1 95L448.4 99.9L453.8 100.6L449.8 104.3L450.9 109.6L446.1 107L441.3 109.6L442.4 104.3L438.4 100.6L443.8 99.9ZM476.5 77.5L478.7 82.4L484.2 83.1L480.2 86.8L481.2 92.1L476.5 89.5L471.7 92.1L472.7 86.8L468.7 83.1L474.2 82.4Z" class="sm"/>
<rect x="508" y="134.1" width="9" height="9" class="qg"/>
<rect x="503.9" y="173.7" width="9" height="9" class="qg"/>
<rect x="514.3" y="195.9" width="9" height="9" class="qg"/>
<rect x="507.9" y="155.4" width="8.8" height="8.8" class="qb"/><circle cx="512.3" cy="159.8" r="0.5" fill="#8080d8"/>
<rect x="480.6" y="145.2" width="8.8" height="8.8" class="qb"/><circle cx="485" cy="149.6" r="0.5" fill="#8080d8"/>
<rect x="510.9" y="186.8" width="8.8" height="8.8" class="qb"/><circle cx="515.3" cy="191.2" r="0.5" fill="#8080d8"/>
</g>
<g clip-path="url(#clipc)">
<path d="M161 408.8C164.6 409.6 173.7 411.7 180.8 413.5C187.9 415.4 196.9 417 203.5 419.8C210.2 422.6 214.9 426.3 220.6 430.6C226.3 435 232.6 440 237.7 445.8C242.8 451.7 247.2 458.9 251 465.7C254.8 472.5 258.1 480.3 260.5 486.6C262.9 492.9 264.2 498.8 265.2 503.7C266.2 508.6 265.9 512.2 266.6 516C267.2 519.8 268.3 523.3 269 526.5C269.7 529.6 270.4 532.5 270.9 535C271.4 537.5 271.7 538.3 271.9 541.4C272 544.5 273.1 550.2 271.9 553.7C270.6 557.2 266.8 559.3 264.3 562.3C261.7 565.3 258.9 568.9 256.7 571.8C254.5 574.6 251.9 577.1 251 579.3C250 581.6 252.6 583.8 251 585C249.4 586.3 245.3 586.1 241.5 586.9C237.7 587.7 232.6 588.8 228.2 589.8C223.8 590.7 217.9 590.9 214.9 592.6C211.9 594.4 212.1 596.7 210.2 600.2C208.3 603.7 205.9 608.9 203.5 613.5C201.2 618.1 198.8 624.3 196 627.7C193.1 631.2 189.3 633.1 186.5 634.4C183.6 635.6 181.7 636 178.9 635.3C176 634.7 172.4 632.3 169.4 630.6C166.4 628.8 164.5 626.5 161 624.9C157.4 623.3 152.9 622.2 147.9 621.1C142.8 620 136.5 619.7 130.8 618.2C125.1 616.8 119.1 614.3 113.7 612.6C108.3 610.8 102.6 610.8 98.5 607.8C94.4 604.8 91.6 599.4 89 594.5C86.5 589.6 85.7 583.6 83.3 578.4C81 573.2 78 568 74.8 563.2C71.6 558.5 66.1 553.9 64.4 549.9C62.6 546 64.5 542 64.4 539.5C64.2 537 64 537.2 63.4 535C62.8 532.8 61.7 529.8 60.6 526.5C59.5 523.1 56.8 520.1 56.8 515.1C56.8 510 59.3 502.3 60.6 496.1C61.8 489.9 62.5 484.1 64.4 478.1C66.3 472.1 68.6 466.1 72 460C75.3 453.9 79.5 446.5 84.3 441.4C89 436.4 94.6 433.2 100.4 429.7C106.3 426.2 113.1 423.3 119.4 420.6C125.7 417.9 131.7 415.5 138.4 413.5C145 411.6 155.5 409.6 159.3 408.8C163 408 157.5 408 161 408.8Z" class="cr"/>
<path d="M161 413.5C164.5 414.6 174.3 418.1 180.8 420.2C187.2 422.2 194.1 423.2 199.8 425.9C205.4 428.6 209.6 432.5 214.9 436.3C220.3 440.1 228.2 445 232 448.6C235.8 452.3 235.8 454.3 237.7 458.1C239.6 461.9 241.5 467.3 243.4 471.4C245.3 475.5 247.5 479 249.1 482.8C250.7 486.6 252.3 490.4 252.9 494.2C253.5 498 253.2 501.8 252.9 505.6C252.6 509.4 250.8 513.8 251 517C251.2 520.1 253 521.6 253.8 524.6C254.6 527.6 255.1 532.2 255.7 535C256.4 537.8 257.3 538.9 257.6 541.4C258 543.9 258.4 546.8 257.6 549.9C256.8 553.1 254.6 556.7 252.9 560.4C251.2 564 248.5 568.3 247.2 571.8C245.9 575.2 247.5 579.3 245.3 581.2C243.1 583.1 237.7 582.5 233.9 583.1C230.1 583.8 226.2 583.3 222.5 585C218.9 586.8 215.9 591.8 212.1 593.6C208.3 595.3 204.3 595.2 199.8 595.5C195.2 595.8 189 594.1 184.6 595.5C180.1 596.9 177 600.5 173.2 604C169.4 607.5 163.8 614.1 161.8 616.4C159.8 618.6 162 618.2 161 617.3C159.9 616.4 157.5 612.7 155.5 610.7C153.4 608.6 151 606.3 148.8 605C146.6 603.7 144.5 603 142.2 602.9C139.8 602.7 137.4 603.7 134.6 604C131.7 604.4 128.3 605.4 125.1 605C121.9 604.5 118.3 602.7 115.6 601.2C112.9 599.6 110.7 597.8 109 595.5C107.2 593.1 106 590.3 105.2 586.9C104.4 583.6 104.2 578.7 104.2 575.5C104.2 572.4 104.5 570 105.2 568C105.8 565.9 109.4 564.5 108 563.2C106.6 561.9 100.7 561.5 96.6 560.4C92.5 559.3 87 558.2 83.3 556.6C79.7 555 76.5 552.3 74.8 550.9C73.1 549.5 72.7 549.6 72.9 548C73.1 546.4 75.3 544.4 75.8 541.4C76.2 538.4 76.1 532.5 75.8 530C75.4 527.5 74.6 528.5 73.9 526.5C73.1 524.4 71.3 521.1 71 517.9C70.7 514.8 71.5 511.1 72 507.5C72.4 503.8 72.6 499.6 73.9 496.1C75.1 492.6 78.4 489.5 79.5 486.6C80.7 483.8 80.2 482.2 80.5 479C80.8 475.9 80.7 471.4 81.4 467.6C82.2 463.8 84 459.4 85.2 456.2C86.5 453.1 86.5 451.3 89 448.6C91.6 446 96.9 442.6 100.4 440.1C103.9 437.6 106.3 435.4 109.9 433.5C113.5 431.6 117.2 430.8 122.2 428.7C127.3 426.7 134 423.7 140.3 421.1C146.6 418.6 156.7 414.8 160.2 413.5C163.7 412.3 157.6 412.4 161 413.5Z" class="cmr"/>
<path d="M161.2 508.9C161.9 507.1 162.8 502.1 163.6 499.3C164.4 496.5 165.1 494.7 166 492C166.9 489.3 168.4 484.1 169.2 483.2C170 482.3 170.5 484.5 170.9 486.4C171.3 488.3 171.3 492.6 171.7 494.5C172.1 496.4 172.2 497.4 173.3 497.7C174.4 498 176.2 497.5 178.1 496.1C180 494.8 182.5 491.6 184.5 489.6C186.5 487.6 189 484.5 190.1 484C191.2 483.5 191.2 484.8 190.9 486.4C190.6 488 189.6 491.1 188.5 493.7C187.4 496.2 186 499 184.5 501.7C183 504.4 181.4 506.9 179.7 509.7C178 512.5 176 515.8 174.1 518.6C172.2 521.4 169.8 524.7 168.4 526.6C167.1 528.5 165.7 528.9 166 529.8C166.3 530.7 168.4 531.5 170 532.2C171.6 532.9 173.4 533.1 175.5 533.8C177.6 534.5 179.6 535.2 182.5 536.4C185.4 537.6 189.5 539.8 193 540.8C196.5 541.8 200.3 541.9 203.5 542.5C206.7 543.1 210.2 543.6 212.3 544.3C214.4 545 215.8 546.2 215.8 546.9C215.8 547.6 214.6 548.6 212.3 548.6C210 548.6 205 547.4 201.8 546.9C198.6 546.4 195.9 546.1 193 545.6C190.1 545.1 186.5 544 184.3 543.8C182.1 543.6 180.4 543.6 179.9 544.3C179.4 545 180.6 546.5 181.6 547.8C182.6 549.1 184.5 550.6 186 552.2C187.5 553.8 188.9 555.6 190.4 557.4C191.9 559.1 194.4 562 194.8 562.7C195.2 563.4 194.6 562.1 193 561.8C191.4 561.5 186.8 560.5 185.2 560.9C183.6 561.3 183.6 562.5 183.4 564.4C183.2 566.3 183.7 570 184.3 572.3C184.9 574.6 186.9 576.9 186.9 578.4C186.9 579.9 185.5 581 184.3 581.1C183.1 581.2 181.5 579.8 179.9 579.3C178.3 578.8 176.5 578.9 175 578C173.5 577.1 171.8 576.1 171 574C170.2 571.9 170.9 567.6 170.3 565.3C169.7 563 168.8 561.2 167.6 560C166.4 558.8 164.3 558 163.3 558.3C162.3 558.6 161.9 560 161.5 562C161.1 564 161.1 567.8 161 570C160.9 572.2 161.1 576.8 160.8 575.5C160.6 574.2 159.8 565.2 159.5 562C159.2 558.8 159.3 558.4 159 556.3C158.7 554.2 158.1 550.6 157.7 549.3C157.3 548 157.2 547.8 156.4 548.4C155.6 549 154.5 551.2 152.9 552.8C151.3 554.4 149 556.2 146.8 558C144.6 559.8 141.6 562.4 139.8 563.3C138.1 564.2 136.9 564 136.3 563.3C135.7 562.6 136.2 560.6 136.3 558.9C136.5 557.1 137.5 554.1 137.2 552.8C136.9 551.5 136.1 551.3 134.5 551C132.9 550.7 129.7 551.3 127.5 551C125.3 550.7 122.9 550.5 121.4 549.3C119.9 548.1 118.5 545.5 118.3 544C118.1 542.5 119 541.5 120.5 540.5C122 539.5 124.9 539.2 127.5 538.3C130.1 537.4 134.2 536.2 136.3 535.3C138.4 534.3 139.5 533.4 139.8 532.6C140.2 531.8 138.9 531 138.4 530.4C137.9 529.8 138.4 529.9 136.9 528.9C135.4 527.9 132 525.6 129.6 524.5C127.2 523.4 123.9 522.7 122.3 522C120.7 521.3 119.5 520.3 120.1 520.1C120.7 519.9 123.2 520.3 126 520.9C128.8 521.5 133.6 523.1 136.9 523.8C140.2 524.5 144 525.3 145.7 525.3C147.4 525.3 147.3 524.7 147.1 523.8C146.8 522.9 145.3 521.2 144.2 520.1C143.1 519 141.8 518.7 140.5 517.2C139.2 515.8 137.6 513.5 136.2 511.4C134.8 509.3 132.9 506.6 131.8 504.8C130.7 503 129.6 501.3 129.6 500.4C129.6 499.5 130.6 499.1 131.8 499.3C133 499.6 135.6 501 136.9 501.9C138.2 502.8 138.8 503.7 139.8 504.8C140.8 505.9 141.9 507.5 143 508.5C144.1 509.5 145.3 511.3 146.4 510.7C147.5 510.1 148.5 506 149.3 504.8C150.2 503.6 150.7 503.4 151.5 503.4C152.3 503.4 153.4 504.1 154.4 504.8C155.4 505.5 156.5 506.8 157.3 507.7C158.2 508.6 158.8 509.8 159.5 510C160.2 510.2 160.5 510.7 161.2 508.9Z" class="cg"/>
<path d="M161.7 509.2C162.5 506.7 163 503.9 163.5 502C164 500.1 164.2 497 164.5 497.5C164.8 498 164.8 502.7 165.2 504.9C165.6 507.1 166.1 510.6 166.8 510.5C167.5 510.4 168.2 506.1 169.2 504.1C170.1 502.1 171.3 500 172.5 498.5C173.7 497 175.8 495.3 176.5 495.3C177.2 495.3 176.9 497 176.5 498.5C176.1 500 175 501.8 174.1 504.1C173.2 506.4 171.6 510.1 170.9 512.1C170.2 514.1 169.7 515.6 170 516.1C170.3 516.6 171.4 516.2 172.5 515.3C173.6 514.4 175.2 512.4 176.5 510.5C177.8 508.6 179.4 505.6 180.5 504.1C181.6 502.6 182.6 501.7 182.9 501.7C183.2 501.7 182.9 502.4 182.1 504.1C181.3 505.8 179.4 509.4 178.1 512.1C176.8 514.8 175.4 517.9 174.1 520.2C172.8 522.5 170.9 524.4 170 525.8C169.1 527.2 168.3 527.8 168.5 528.5C168.7 529.2 169.2 530 171.1 530.3C173 530.6 178.6 529.9 179.9 530.3C181.2 530.7 178.3 532 179 532.9C179.7 533.8 182 534.5 184.3 535.5C186.6 536.5 190.4 538 193 539C195.6 540 199.7 540.7 200 541.2C200.3 541.7 197 541.9 194.8 542.1C192.6 542.3 188.8 542 186.9 542.5C185 543 183.6 543.8 183.4 545.1C183.2 546.4 184.8 548.5 186 550.4C187.2 552.3 189.5 554.9 190.4 556.5C191.3 558.1 191.7 559.4 191.3 560C190.9 560.6 189.3 560.4 187.8 560C186.3 559.6 184.6 558.6 182.5 557.4C180.4 556.2 177.4 554 175.5 553C173.6 552 171.9 550.8 171.1 551.3C170.3 551.8 170.6 553.7 170.7 555.7C170.8 557.7 171.4 561.8 171.6 563.5C171.8 565.2 172.1 564.5 172 566.2C171.9 568 171.5 572 171.1 574C170.7 576 170.1 578.2 169.4 578.4C168.7 578.5 167.7 576.3 166.8 574.9C165.9 573.5 164.9 571.1 164.1 569.7C163.2 568.4 162.5 567 161.7 566.8C160.9 566.6 160.1 567 159.1 568.5C158.1 570 156.5 574.6 155.5 575.5C154.5 576.4 153.6 575.5 152.9 573.8C152.2 572 151.6 567.2 151.2 565C150.8 562.8 151 561.6 150.3 560.7C149.6 559.8 148.4 559.1 146.8 559.8C145.2 560.5 142.3 563.4 140.7 565C139.1 566.6 138.7 568.9 137.2 569.4C135.7 569.9 134.2 567.9 131.9 567.7C129.6 567.6 125.7 568.4 123.1 568.5C120.5 568.6 117.1 569.4 116.1 568.5C115.1 567.6 115.8 565.2 117 563.3C118.2 561.4 120.9 559.2 123.1 557.2C125.3 555.2 127.9 553 130.1 551C132.3 549 135 546.6 136.3 544.9C137.6 543.1 138.3 541.5 138 540.5C137.7 539.5 137 539.2 134.5 538.8C132 538.4 126 538.8 123.1 538.3C120.2 537.8 118.1 536.7 117 536.1C115.9 535.5 116.1 534.9 116.3 534.5C116.5 534.1 116 534 117.9 533.5C119.8 533 124.4 532.4 127.5 531.8C130.6 531.2 134.5 530.9 136.3 530C138.1 529.1 137.3 527.4 138.4 526.7C139.5 526 141.2 526.1 142.7 526C144.1 525.9 146.2 526.4 147.1 526C147.9 525.6 148.2 524.8 147.8 523.8C147.4 522.8 146 521.3 144.9 520.1C143.8 518.9 142.6 517.8 141.3 516.5C140 515.2 138.4 513.6 136.9 512.1C135.4 510.6 133.5 508.7 132.5 507.7C131.5 506.7 130.8 506.4 131.1 506.3C131.3 506.2 133 506.5 134 507C135 507.5 135.7 508.6 136.9 509.2C138.1 509.8 139.7 510.1 141.3 510.7C142.9 511.3 145.1 511.9 146.4 512.8C147.7 513.6 148.5 515.4 149.3 515.8C150.2 516.2 151 515.7 151.5 515C152 514.3 151.7 511.8 152.2 511.4C152.7 511 153.7 512.2 154.4 512.8C155.1 513.4 155.9 514.3 156.6 515C157.3 515.7 158 518.2 158.8 517.2C159.7 516.2 160.9 511.7 161.7 509.2Z" class="cb"/>
<path d="M161 400.2L163.6 405.3L169.2 406.1L165.1 410.1L166.1 415.8L161 413.1L156 415.8L156.9 410.1L152.9 406.1L158.5 405.3ZM203.5 411.2L206.1 416.3L211.7 417.1L207.6 421.1L208.6 426.8L203.5 424.1L198.5 426.8L199.5 421.1L195.4 417.1L201 416.3ZM266.6 507.4L269.1 512.5L274.7 513.4L270.6 517.4L271.6 523L266.6 520.3L261.5 523L262.5 517.4L258.4 513.4L264 512.5ZM271.9 545.1L274.4 550.2L280 551.1L276 555.1L276.9 560.7L271.9 558L266.8 560.7L267.8 555.1L263.7 551.1L269.3 550.2ZM251 576.4L253.5 581.6L259.2 582.4L255.1 586.4L256 592L251 589.3L245.9 592L246.9 586.4L242.8 582.4L248.5 581.6ZM196 619.1L198.5 624.3L204.1 625.1L200 629.1L201 634.7L196 632L190.9 634.7L191.9 629.1L187.8 625.1L193.4 624.3ZM161.8 616.3L164.3 621.4L170 622.2L165.9 626.2L166.9 631.8L161.8 629.2L156.7 631.8L157.7 626.2L153.6 622.2L159.3 621.4ZM130.8 609.6L133.3 614.8L139 615.6L134.9 619.6L135.8 625.2L130.8 622.5L125.7 625.2L126.7 619.6L122.6 615.6L128.3 614.8ZM98.5 599.2L101.1 604.3L106.7 605.2L102.6 609.1L103.6 614.8L98.5 612.1L93.5 614.8L94.4 609.1L90.3 605.2L96 604.3ZM83.3 569.8L85.9 574.9L91.5 575.7L87.4 579.7L88.4 585.4L83.3 582.7L78.3 585.4L79.3 579.7L75.2 575.7L80.8 574.9ZM64.4 541.3L66.9 546.4L72.5 547.3L68.5 551.3L69.4 556.9L64.4 554.2L59.3 556.9L60.3 551.3L56.2 547.3L61.8 546.4ZM56.8 506.5L59.3 511.6L65 512.4L60.9 516.4L61.8 522L56.8 519.4L51.7 522L52.7 516.4L48.6 512.4L54.2 511.6ZM64.4 469.5L66.9 474.6L72.5 475.4L68.5 479.4L69.4 485L64.4 482.4L59.3 485L60.3 479.4L56.2 475.4L61.8 474.6ZM84.3 432.8L86.8 438L92.5 438.8L88.4 442.8L89.3 448.4L84.3 445.7L79.2 448.4L80.2 442.8L76.1 438.8L81.8 438ZM119.4 412L121.9 417.1L127.6 417.9L123.5 421.9L124.5 427.5L119.4 424.9L114.3 427.5L115.3 421.9L111.2 417.9L116.9 417.1Z" class="sr"/>
<path d="M161 405.4L163.3 410.4L168.7 411L164.7 414.7L165.8 420.1L161 417.4L156.3 420.1L157.3 414.7L153.3 411L158.7 410.4ZM199.8 417.8L202 422.7L207.5 423.4L203.5 427.1L204.5 432.4L199.8 429.8L195 432.4L196 427.1L192 423.4L197.5 422.7ZM232 440.5L234.3 445.5L239.7 446.1L235.7 449.9L236.8 455.2L232 452.5L227.3 455.2L228.3 449.9L224.3 446.1L229.7 445.5ZM251 508.9L253.3 513.8L258.7 514.5L254.7 518.2L255.8 523.5L251 520.9L246.2 523.5L247.3 518.2L243.3 514.5L248.7 513.8ZM257.6 541.8L259.9 546.8L265.3 547.4L261.3 551.1L262.4 556.5L257.6 553.8L252.9 556.5L253.9 551.1L249.9 547.4L255.3 546.8ZM245.3 573.1L247.6 578.1L253 578.7L249 582.4L250.1 587.8L245.3 585.1L240.5 587.8L241.6 582.4L237.6 578.7L243 578.1ZM212.1 585.5L214.4 590.4L219.8 591.1L215.8 594.8L216.8 600.1L212.1 597.5L207.3 600.1L208.4 594.8L204.4 591.1L209.8 590.4ZM184.6 587.4L186.9 592.3L192.3 593L188.3 596.7L189.3 602L184.6 599.4L179.8 602L180.9 596.7L176.9 593L182.3 592.3ZM161.8 608.3L164.1 613.2L169.5 613.8L165.5 617.6L166.6 622.9L161.8 620.3L157 622.9L158.1 617.6L154.1 613.8L159.5 613.2ZM134.6 595.9L136.9 600.9L142.3 601.5L138.3 605.2L139.3 610.6L134.6 607.9L129.8 610.6L130.9 605.2L126.9 601.5L132.3 600.9ZM109 587.4L111.3 592.3L116.7 593L112.7 596.7L113.7 602L109 599.4L104.2 602L105.3 596.7L101.3 593L106.7 592.3ZM108 555.1L110.3 560.1L115.7 560.7L111.7 564.4L112.8 569.8L108 567.1L103.3 569.8L104.3 564.4L100.3 560.7L105.7 560.1ZM72.9 539.9L75.2 544.9L80.6 545.5L76.6 549.2L77.7 554.6L72.9 551.9L68.1 554.6L69.2 549.2L65.2 545.5L70.6 544.9ZM71 509.8L73.3 514.8L78.7 515.4L74.7 519.1L75.8 524.5L71 521.8L66.2 524.5L67.3 519.1L63.3 515.4L68.7 514.8ZM79.5 478.5L81.8 483.5L87.3 484.1L83.3 487.8L84.3 493.2L79.5 490.5L74.8 493.2L75.8 487.8L71.8 484.1L77.3 483.5ZM89 440.5L91.3 445.5L96.7 446.1L92.7 449.9L93.8 455.2L89 452.5L84.3 455.2L85.3 449.9L81.3 446.1L86.7 445.5ZM122.2 420.6L124.5 425.6L130 426.2L126 429.9L127 435.3L122.2 432.6L117.5 435.3L118.5 429.9L114.5 426.2L120 425.6Z" class="sm"/>
<rect x="122.5" y="488.6" width="9" height="9" class="qg"/>
<rect x="172.3" y="572.2" width="9" height="9" class="qg"/>
<rect x="157.5" y="506.5" width="4.6" height="4.6" class="qg"/>
<rect x="136.9" y="505.5" width="8.8" height="8.8" class="qb"/><circle cx="141.3" cy="509.9" r="0.5" fill="#8080d8"/>
<rect x="156.6" y="512.5" width="8.8" height="8.8" class="qb"/><circle cx="161" cy="516.9" r="0.5" fill="#8080d8"/>
<rect x="169.8" y="565.3" width="8.8" height="8.8" class="qb"/><circle cx="174.2" cy="569.7" r="0.5" fill="#8080d8"/>
</g>
<g clip-path="url(#clipd)">
<path d="M510.8 408.4C514.4 409 523.8 410.8 530.8 412.6C537.7 414.4 546 416.7 552.6 419.2C559.2 421.8 564.9 424.1 570.6 427.8C576.3 431.4 582.3 436.6 586.8 441.1C591.2 445.5 593.9 449.3 597.2 454.3C600.5 459.4 603.8 465.7 606.7 471.4C609.5 477.1 612.1 483.1 614.3 488.5C616.5 493.9 618.9 499.4 620 503.7C621.1 508 621.2 511.5 620.9 514.1C620.6 516.8 618.9 517.4 618 519.6C617.1 521.8 616.7 524.9 615.5 527.5C614.3 530.1 612.6 532.6 610.6 535.4C608.6 538.2 606.3 541 603.7 544.3C601.1 547.6 597.9 551.6 594.8 555.2C591.7 558.8 587.4 563.6 585 566C582.6 568.4 581.2 567.9 580.1 569.8C579 571.6 579.8 574.2 578.2 577.3C576.6 580.5 573 585.9 570.6 588.7C568.3 591.6 567.5 592.4 564 594.4C560.5 596.5 554.3 598.7 549.8 601.1C545.2 603.4 540.9 606.7 536.5 608.7C532 610.6 527.4 611.8 523.2 613C518.9 614.3 515.2 616.2 511 616.2C506.7 616.3 502.3 615.1 497.9 613.4C493.5 611.7 488.7 607.9 484.6 605.8C480.5 603.8 477 603.8 473.2 601.1C469.4 598.4 465.6 593.3 461.8 589.7C458 586 453.6 582.2 450.4 579.2C447.3 576.2 444.5 574.8 442.8 571.6C441.1 568.5 441.2 563.6 440.2 560.3C439.2 556.9 438.1 554.1 436.8 551.7C435.5 549.4 433.9 548.7 432.4 546C430.9 543.3 429.1 539.5 427.6 535.6C426.2 531.7 425.1 527.3 423.9 522.7C422.6 518 421.5 512.9 420.1 507.5C418.6 502.1 416.3 495.3 415.3 490.4C414.4 485.5 413.3 482.5 414.4 478.1C415.5 473.6 419.4 467.8 422 463.8C424.5 459.9 426.7 457.3 429.5 454.3C432.4 451.3 434.9 449.3 439 445.8C443.1 442.3 449 437.1 454.2 433.5C459.4 429.8 464.7 427.1 470.4 424C476 420.8 481.9 417 488.4 414.5C494.9 412 505.5 409.8 509.3 408.8C513 407.8 507.3 407.8 510.8 408.4Z" class="cr"/>
<path d="M510.8 413.5C517.6 413.2 524.4 417.7 530.8 420.2C537.1 422.7 543.7 425.9 548.8 428.7C553.9 431.6 557.5 433.9 561.1 437.3C564.8 440.6 568.6 445.5 570.6 448.6C572.7 451.8 571.3 453.7 573.5 456.2C575.7 458.8 580.9 461 583.9 463.8C586.9 466.7 589.3 469.8 591.5 473.3C593.7 476.8 595.9 480.9 597.2 484.7C598.5 488.5 598.9 492.6 599.1 496.1C599.3 499.6 598.6 502.1 598.1 505.6C597.7 509.1 596.6 513.5 596.2 517C595.9 520.5 596.1 523.5 596.2 526.5C596.4 529.5 596.9 533.2 597.2 535C597.5 536.8 597.8 535.5 598.1 537.5C598.5 539.5 600.2 544.8 599.1 547C598 549.2 594 549.2 591.5 550.8C589 552.4 585.8 553.9 583.9 556.5C582 559 580.1 563.1 580.1 566C580.1 568.8 585.2 570.7 583.9 573.5C582.6 576.4 576.3 581.3 572.5 583C568.7 584.8 564.1 584 561.1 584C558.1 584 557 582.6 554.5 583C552 583.5 548.3 584.9 546 586.8C543.6 588.7 541.8 591.6 540.3 594.4C538.7 597.3 538.7 602.6 536.5 603.9C534.3 605.2 529.8 602.6 527 602C524.1 601.4 522.1 600 519.4 600.1C516.7 600.3 513.9 601.7 511 603C508 604.2 504.8 606.3 501.7 607.7C498.5 609.1 495.5 610.7 492.2 611.5C488.9 612.3 483.8 614.4 481.7 612.5C479.7 610.6 480.2 604.7 479.8 600.1C479.5 595.5 479.7 590 479.8 584.9C480 579.9 480.3 573.2 480.8 569.8C481.3 566.3 484 565.3 482.7 564.1C481.4 562.8 476.4 562.5 473.2 562.2C470 561.8 466.2 562.3 463.7 562.2C461.2 562 460.5 562.8 458 561.2C455.5 559.6 451.4 555.5 448.5 552.7C445.7 549.8 442.8 546.7 440.9 544.1C439 541.6 438.4 540.2 437.1 537.5C435.9 534.8 434.6 529.8 433.3 528C432.1 526.2 431.3 528.3 429.5 526.5C427.8 524.6 424.6 520.8 422.9 517C421.2 513.2 419.7 507.8 419.1 503.7C418.5 499.6 418.8 496.1 419.1 492.3C419.4 488.5 419 483.8 421 480.9C423.1 478.1 427.8 477.3 431.4 475.2C435.1 473.2 439.5 470.8 442.8 468.6C446.2 466.4 449.3 464.6 451.4 461.9C453.4 459.2 453.7 455.6 455.2 452.4C456.6 449.3 456.9 446.4 459.9 443C462.9 439.5 468.1 435 473.2 431.6C478.3 428.1 484 425.1 490.3 422.1C496.6 419.1 504.1 413.9 510.8 413.5Z" class="cmr"/>
<path d="M519.5 484.5C519.9 484 519.8 487.3 519.5 491.1C519.2 494.9 518.3 502.3 517.9 507.1C517.5 511.9 516.5 518.6 517 520C517.5 521.4 519.5 516.8 521 515.5C522.5 514.2 524.1 513.3 526 512C527.9 510.7 530.4 508.8 532.3 507.9C534.1 506.9 535 506.3 537.1 506.3C539.2 506.3 542.8 507.1 545.2 507.9C547.6 508.7 550.3 509.9 551.6 511.1C552.9 512.3 553.3 514 553.2 515.2C553.1 516.4 552.1 517.3 550.8 518.4C549.5 519.5 546.8 520.7 545.2 521.6C543.6 522.5 542.2 523.4 541.1 524C540 524.6 539.3 524.4 538.7 525C538.1 525.6 537.3 526.7 537.3 527.6C537.3 528.5 538.1 529.6 538.7 530.3C539.3 531 540.9 531.5 540.8 532C540.6 532.5 539 532.8 537.8 533.3C536.6 533.8 534.3 534.5 533.4 535.1C532.5 535.7 532.1 536.2 532.1 536.8C532.1 537.4 532.7 538 533.4 538.6C534.1 539.2 535.9 539.8 536.5 540.3C537.1 540.8 537.3 541.5 536.9 541.6C536.5 541.8 535.4 541.5 534.3 541.2C533.2 540.9 531.7 540.2 530.3 539.9C528.9 539.6 527 539.4 526 539.5C525 539.6 524.5 540.1 524.6 540.8C524.7 541.5 525.7 542.8 526.4 543.8C527.1 544.8 527.9 545.7 528.6 546.5C529.3 547.3 530 547.9 530.8 548.7C531.6 549.5 532.4 550.4 533.4 551.3C534.4 552.2 536.1 553.2 536.5 553.9C536.9 554.6 536.5 555.6 536 555.7C535.5 555.9 534.4 555.2 533.4 554.8C532.4 554.3 531.2 553.4 530.3 553C529.4 552.6 528.8 552.1 528.1 552.2C527.4 552.3 526.4 552.8 526 553.5C525.6 554.2 525.5 554.8 525.5 556.5C525.5 558.2 526.5 562.8 526 563.9C525.5 565 523.8 564.3 522.5 563C521.2 561.7 519.4 557.5 518.1 556C516.8 554.5 515.6 553.6 514.6 554.3C513.6 555 512.7 557.8 512 560.4C511.3 563 510.7 567.1 510.3 570C509.9 572.9 510 577.9 509.8 577.9C509.6 577.9 509.1 573.2 508.9 570C508.7 566.8 508.6 562.8 508.5 558.7C508.4 554.6 508.4 548 508 545.5C507.6 543 506.8 543.5 505.8 543.8C504.9 544.1 503.6 545.7 502.3 547.3C501 548.9 499.2 551.9 497.9 553.4C496.6 554.9 495.3 555.9 494.4 556C493.5 556.1 493.1 555.5 492.7 554.3C492.3 553.1 493.3 549.9 491.8 549C490.3 548.1 486.4 548.9 483.9 549C481.4 549.1 478.5 550.2 476.9 549.9C475.3 549.6 473.9 548.5 474.3 547.3C474.7 546.1 477.8 544.2 479.5 542.9C481.2 541.6 483.8 540.4 484.8 539.4C485.8 538.4 485.9 537.7 485.7 536.8C485.5 535.9 485.4 534.7 483.9 534.1C482.4 533.5 479.1 533.6 476.9 533.3C474.7 533 471.2 532.8 470.8 532.4C470.4 532 472.1 531.3 474.3 530.6C476.5 529.9 481.9 528.8 483.9 528C485.8 527.2 486.1 526.8 486 526C485.9 525.2 484.1 524.2 483 523C481.9 521.8 480.1 520.1 479.3 518.6C478.6 517.1 479 515.5 478.5 513.7C478 512 476.8 510 476.1 508.1C475.4 506.2 474.6 503.6 474.5 502.5C474.4 501.4 474.2 501.4 475.3 501.3C476.4 501.2 479 501.5 480.9 501.7C482.8 501.9 485.2 502.2 486.5 502.5C487.8 502.8 488.2 503.6 488.9 503.3C489.6 503 489.7 501.6 490.5 500.9C491.3 500.2 492.5 500 493.7 499.3C494.9 498.6 496.7 498.2 497.8 496.9C498.9 495.5 499.4 493.1 500.2 491.2C501 489.3 501.9 485.1 502.6 485.6C503.3 486.1 503.7 490.8 504.5 494C505.3 497.2 506.5 502 507.5 505C508.5 508 509.4 512.2 510.5 512C511.6 511.8 512.9 507 514 504C515.1 501 516.1 497.2 517 494C517.9 490.8 519.1 485 519.5 484.5Z" class="cg"/>
<path d="M513 510.3C513.9 509.2 514.6 505.6 515.4 503.1C516.2 500.6 517.2 497.4 517.9 495.1C518.6 492.8 519 490.5 519.5 489.5C520 488.5 520.7 488.2 521.1 489.1C521.5 490 522 492.1 521.9 495.1C521.8 498.1 520.8 503.5 520.3 507.1C519.8 510.7 518.6 515.3 518.7 516.8C518.8 518.3 519.9 516.8 521.1 516C522.3 515.2 524.3 513.2 525.9 512C527.5 510.8 529.8 509 530.7 508.7C531.6 508.4 531.6 509.4 531.5 510.3C531.4 511.2 529.8 513.6 529.9 514.4C530 515.2 530.7 515.2 532.3 515.2C533.9 515.2 538.2 514.3 539.5 514.4C540.8 514.5 540.6 514.9 540.3 516C540 517.1 538.2 519.5 537.9 520.8C537.6 522.1 537.8 523.2 538.7 524C539.7 524.8 541.7 525.2 543.6 525.6C545.5 526 548.7 525.9 550 526.4C551.3 526.9 552 527.8 551.4 528.5C550.8 529.2 548 529.7 546.2 530.6C544.5 531.5 541.9 532.8 540.9 534.1C539.9 535.4 539.4 537 540 538.5C540.6 540 542.5 541.4 544.4 542.9C546.3 544.4 549.6 546.1 551.4 547.3C553.2 548.5 555.2 549.6 555.4 550.3C555.5 551 554.3 551.7 552.3 551.6C550.3 551.5 546.3 550.5 543.5 549.9C540.7 549.2 537.9 548 535.7 547.7C533.5 547.4 531.4 547.6 530.4 548.1C529.4 548.6 529.2 549.5 529.5 550.8C529.8 552.1 531 554.1 532.2 556C533.4 557.9 535.3 560.3 536.5 562.2C537.7 564.1 539.3 566 539.6 567.4C539.9 568.8 539.7 570.4 538.3 570.9C536.9 571.4 533 570.8 531.3 570.5C529.5 570.2 529.3 568.7 527.8 569.2C526.3 569.7 523.8 571.9 522.5 573.5C521.2 575.1 520.9 577.2 519.9 578.8C518.9 580.4 517.9 582.2 516.4 583.2C514.9 584.2 512.6 584.9 511.1 584.9C509.6 584.9 508.7 583.9 507.6 583.2C506.5 582.5 505.3 582.5 504.5 580.6C503.7 578.7 503.1 574.7 502.7 571.8C502.3 568.9 502.7 565.2 502.3 563C501.9 560.8 501.5 559.3 500.5 558.7C499.5 558.1 497.9 558.3 496.2 559.5C494.4 560.7 491.5 564.2 490 565.7C488.5 567.2 487.8 568.4 487.4 568.3C487 568.1 487 566.4 487.4 564.8C487.8 563.2 489.1 560.9 490 558.7C490.9 556.5 492.1 553.5 492.7 551.6C493.3 549.7 493.9 548.2 493.5 547.3C493.1 546.4 492 546 490 546C488 546 483.9 546.9 481.3 547.3C478.7 547.6 476.1 548.4 474.3 548.1C472.6 547.8 471.7 547 470.8 545.5C469.9 544 469.7 541 469 539.4C468.3 537.8 466.7 536.9 466.4 535.9C466.1 534.9 465.7 534.2 467 533.5C468.3 532.8 471.9 532 474.3 531.5C476.7 531 479.3 530.6 481.3 530.2C483.3 529.8 485.5 529.6 486.5 529C487.5 528.4 487.8 527.5 487.3 526.6C486.8 525.7 484.9 524.5 483.3 523.4C481.7 522.3 478.8 520.9 477.7 520.2C476.6 519.5 476.4 519.1 476.9 519C477.4 518.9 479.6 519.5 480.9 519.4C482.2 519.3 484.1 519.3 484.9 518.6C485.7 517.9 486 516.6 485.7 515.3C485.4 513.9 484.1 512 483.3 510.5C482.5 509 481.2 507.4 480.9 506.5C480.6 505.6 480.9 505.5 481.7 505.3C482.5 505.1 484.4 505.5 485.7 505.3C487 505.1 488.9 505.2 489.7 504.1C490.5 503 490.1 500.2 490.5 498.5C490.9 496.8 491.3 495.2 492.1 493.7C492.9 492.2 494.1 490.5 495.3 489.6C496.5 488.7 498.2 488.3 499.4 488.4C500.6 488.5 501.5 488.8 502.6 490.4C503.7 491.9 504.9 495.3 505.8 497.7C506.7 500.1 507.5 502.9 508.2 504.9C508.9 506.9 509 508.8 509.8 509.7C510.6 510.6 512.1 511.4 513 510.3Z" class="cb"/>
<path d="M510.8 399.8L513.4 404.9L519 405.8L514.9 409.7L515.9 415.4L510.8 412.7L505.8 415.4L506.8 409.7L502.7 405.8L508.3 404.9ZM552.6 410.6L555.1 415.8L560.8 416.6L556.7 420.6L557.7 426.2L552.6 423.5L547.5 426.2L548.5 420.6L544.4 416.6L550.1 415.8ZM586.8 432.5L589.3 437.6L594.9 438.4L590.8 442.4L591.8 448L586.8 445.4L581.7 448L582.7 442.4L578.6 438.4L584.2 437.6ZM620.9 505.5L623.4 510.6L629.1 511.5L625 515.5L626 521.1L620.9 518.4L615.9 521.1L616.8 515.5L612.7 511.5L618.4 510.6ZM579.2 562.1L581.7 567.2L587.3 568L583.3 572L584.2 577.7L579.2 575L574.1 577.7L575.1 572L571 568L576.6 567.2ZM564 585.8L566.5 590.9L572.2 591.8L568.1 595.8L569 601.4L564 598.7L558.9 601.4L559.9 595.8L555.8 591.8L561.5 590.9ZM511 607.6L513.5 612.8L519.1 613.6L515.1 617.6L516 623.2L511 620.5L505.9 623.2L506.9 617.6L502.8 613.6L508.4 612.8ZM484.6 597.2L487.1 602.3L492.8 603.2L488.7 607.1L489.6 612.8L484.6 610.1L479.5 612.8L480.5 607.1L476.4 603.2L482.1 602.3ZM461.8 581.1L464.3 586.2L470 587L465.9 591L466.9 596.6L461.8 594L456.8 596.6L457.7 591L453.6 587L459.3 586.2ZM442.8 563L445.4 568.2L451 569L446.9 573L447.9 578.6L442.8 575.9L437.8 578.6L438.7 573L434.7 569L440.3 568.2ZM432.4 537.4L434.9 542.6L440.6 543.4L436.5 547.4L437.4 553L432.4 550.3L427.3 553L428.3 547.4L424.2 543.4L429.9 542.6ZM414.4 469.5L416.9 474.6L422.5 475.4L418.5 479.4L419.4 485L414.4 482.4L409.3 485L410.3 479.4L406.2 475.4L411.8 474.6ZM439 437.2L441.6 442.3L447.2 443.1L443.1 447.1L444.1 452.8L439 450.1L434 452.8L434.9 447.1L430.9 443.1L436.5 442.3ZM470.4 415.4L472.9 420.5L478.5 421.3L474.4 425.3L475.4 430.9L470.4 428.3L465.3 430.9L466.3 425.3L462.2 421.3L467.8 420.5Z" class="sr"/>
<path d="M510.8 405.4L513.1 410.4L518.6 411L514.6 414.7L515.6 420.1L510.8 417.4L506.1 420.1L507.1 414.7L503.1 411L508.6 410.4ZM548.8 420.6L551.1 425.6L556.5 426.2L552.5 429.9L553.6 435.3L548.8 432.6L544 435.3L545.1 429.9L541.1 426.2L546.5 425.6ZM573.5 448.1L575.8 453.1L581.2 453.7L577.2 457.4L578.2 462.8L573.5 460.1L568.7 462.8L569.8 457.4L565.8 453.7L571.2 453.1ZM596.2 508.9L598.5 513.8L604 514.5L600 518.2L601 523.5L596.2 520.9L591.5 523.5L592.5 518.2L588.5 514.5L594 513.8ZM599.1 538.9L601.4 543.8L606.8 544.5L602.8 548.2L603.9 553.5L599.1 550.9L594.3 553.5L595.4 548.2L591.4 544.5L596.8 543.8ZM583.9 565.4L586.2 570.4L591.6 571L587.6 574.8L588.7 580.1L583.9 577.4L579.2 580.1L580.2 574.8L576.2 571L581.6 570.4ZM554.5 574.9L556.8 579.9L562.2 580.5L558.2 584.2L559.3 589.6L554.5 586.9L549.7 589.6L550.8 584.2L546.8 580.5L552.2 579.9ZM536.5 595.8L538.8 600.8L544.2 601.4L540.2 605.1L541.2 610.5L536.5 607.8L531.7 610.5L532.8 605.1L528.8 601.4L534.2 600.8ZM510.8 594.9L513.1 599.8L518.6 600.5L514.6 604.2L515.6 609.5L510.8 606.9L506.1 609.5L507.1 604.2L503.1 600.5L508.6 599.8ZM481.7 604.4L484 609.3L489.4 609.9L485.4 613.7L486.5 619L481.7 616.4L477 619L478 613.7L474 609.9L479.4 609.3ZM482.7 556L485 560.9L490.4 561.6L486.4 565.3L487.4 570.6L482.7 568L477.9 570.6L479 565.3L475 561.6L480.4 560.9ZM458 553.1L460.3 558.1L465.7 558.7L461.7 562.4L462.8 567.8L458 565.1L453.3 567.8L454.3 562.4L450.3 558.7L455.7 558.1ZM440.9 536L443.2 541L448.6 541.6L444.6 545.3L445.7 550.7L440.9 548L436.2 550.7L437.2 545.3L433.2 541.6L438.6 541ZM422.9 508.9L425.2 513.8L430.6 514.5L426.6 518.2L427.7 523.5L422.9 520.9L418.1 523.5L419.2 518.2L415.2 514.5L420.6 513.8ZM421 472.8L423.3 477.8L428.7 478.4L424.7 482.1L425.8 487.5L421 484.8L416.2 487.5L417.3 482.1L413.3 478.4L418.7 477.8ZM451.4 453.8L453.7 458.8L459.1 459.4L455.1 463.1L456.1 468.5L451.4 465.8L446.6 468.5L447.7 463.1L443.7 459.4L449.1 458.8ZM473.2 423.5L475.5 428.4L480.9 429.1L476.9 432.8L478 438.1L473.2 435.5L468.4 438.1L469.5 432.8L465.5 429.1L470.9 428.4Z" class="sm"/>
<rect x="515" y="479.3" width="9" height="9" class="qg"/>
<rect x="490.1" y="497" width="9" height="9" class="qg"/>
<rect x="508.5" y="537.7" width="9" height="9" class="qg"/>
<rect x="486.9" y="504.5" width="8.8" height="8.8" class="qb"/><circle cx="491.3" cy="508.9" r="0.5" fill="#8080d8"/>
<rect x="506.2" y="510.9" width="8.8" height="8.8" class="qb"/><circle cx="510.6" cy="515.3" r="0.5" fill="#8080d8"/>
<rect x="519.6" y="564.1" width="8.8" height="8.8" class="qb"/><circle cx="524" cy="568.5" r="0.5" fill="#8080d8"/>
</g>
<text x="171.3" y="25.9" class="tt">H-plane</text>
<text x="499.3" y="21" class="tt">E-plane</text>
<text x="328.9" y="29" class="ghz">(3.5 GHz)</text>
<text x="340" y="373.8" class="ghz">(5.2 GHz)</text>
<text x="345.3" y="48.6" class="sc">9</text>
<text x="345.3" y="71.3" class="sc">0</text>
<text x="345.3" y="94" class="sc">-9</text>
<text x="345.3" y="116.8" class="sc">-18</text>
<text x="345.3" y="139.5" class="sc">-27</text>
<text x="345.3" y="162.2" class="sc">-36</text>
<text x="345.3" y="184.9" class="sc">-45</text>
<text x="345.3" y="207.6" class="sc">-36</text>
<text x="345.3" y="230.4" class="sc">-27</text>
<text x="345.3" y="253.1" class="sc">-18</text>
<text x="345.3" y="275.8" class="sc">-9</text>
<text x="345.3" y="298.5" class="sc">0</text>
<text x="345.3" y="321.2" class="sc">9</text>
<text x="341.9" y="400.4" class="sc">13</text>
<text x="341.9" y="423" class="sc">0</text>
<text x="341.9" y="445.6" class="sc">-13</text>
<text x="341.9" y="468.1" class="sc">-26</text>
<text x="341.9" y="490.7" class="sc">-39</text>
<text x="341.9" y="513.3" class="sc">-52</text>
<text x="341.9" y="535.9" class="sc">-65</text>
<text x="341.9" y="558.5" class="sc">-52</text>
<text x="341.9" y="581" class="sc">-39</text>
<text x="341.9" y="603.6" class="sc">-26</text>
<text x="341.9" y="626.2" class="sc">-13</text>
<text x="341.9" y="648.8" class="sc">0</text>
<text x="341.9" y="671.4" class="sc">13</text>
<text x="163.5" y="355" class="sub">(a)</text>
<text x="509.9" y="354" class="sub">(b)</text>
<text x="164.1" y="712.3" class="sub">(c)</text>
<text x="512.8" y="712.3" class="sub">(d)</text>
<line x1="204" y1="720.2" x2="250" y2="720.2" stroke="#ff0000" stroke-width="2.6"/>
<path d="M226.8 708.7L230.3 716.4L238.8 717.4L232.5 723.2L234.2 731.5L226.8 727.3L219.4 731.5L221.1 723.2L214.8 717.4L223.3 716.4Z" fill="#ff0000" stroke="#ff0000" stroke-width="1.2" stroke-linejoin="round"/>
<text x="255" y="725.9" class="lg">Simulated at phi = 0 deg.</text>
<line x1="203" y1="745.8" x2="251" y2="745.8" stroke="#00ff00" stroke-width="2.6"/>
<rect x="218.3" y="737.5" width="17" height="16.8" fill="#00ff00"/>
<text x="255" y="751.2" class="lg">Simulated at phi = 90 deg.</text>
<line x1="203" y1="771.3" x2="251" y2="771.3" stroke="#8b0000" stroke-width="2.6"/>
<path d="M227 760L230.3 767.8L238.7 768.5L232.3 774L234.2 782.3L227 777.9L219.8 782.3L221.7 774L215.3 768.5L223.7 767.8Z" fill="#fff" stroke="#8b0000" stroke-width="2.1"/>
<text x="255" y="775.9" class="lg">Measured at phi = 0 deg.</text>
<line x1="203" y1="797.6" x2="251" y2="797.6" stroke="#00008b" stroke-width="2.6"/>
<rect x="218.8" y="788.8000000000001" width="16.4" height="16.8" fill="#fff" stroke="#5050d0" stroke-width="1.3"/>
<circle cx="227" cy="797.6" r="0.6" fill="#5050d0"/>
<text x="255" y="800.6" class="lg">Measured at phi =90 deg.</text>
</g>
</svg></body></html>
